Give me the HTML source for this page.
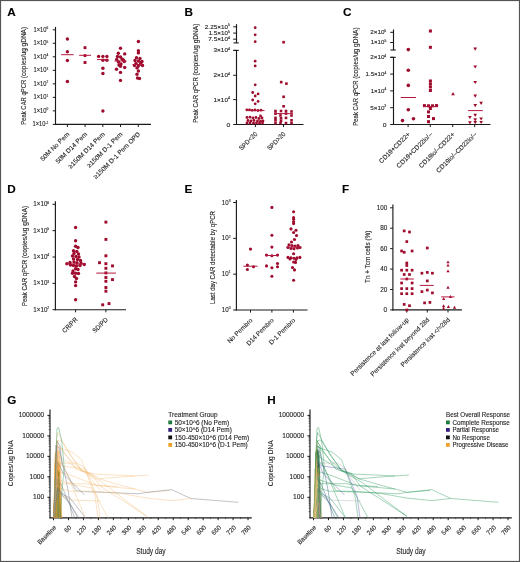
<!DOCTYPE html>
<html><head><meta charset="utf-8"><style>
html,body{margin:0;padding:0;background:#fff;}
svg{display:block;will-change:transform;}
text{stroke:#231f20;stroke-width:0.12px;}
</style></head><body>
<svg width="520" height="562" viewBox="0 0 520 562" font-family='"Liberation Sans", sans-serif' fill="#231f20">
<rect x="0" y="0" width="520" height="562" fill="#fff"/>
<rect x="0.5" y="0.5" width="519" height="561" fill="none" stroke="#555" stroke-width="1.2"/>
<text x="7.30" y="16.20" font-size="10.4" font-weight="bold" fill="#000" textLength="8.49" lengthAdjust="spacingAndGlyphs">A</text>
<line x1="55.50" y1="26.90" x2="55.50" y2="124.85" stroke="#1a1a1a" stroke-width="1.15"/>
<line x1="55.00" y1="124.35" x2="151.00" y2="124.35" stroke="#1a1a1a" stroke-width="1.15"/>
<line x1="52.80" y1="29.80" x2="55.50" y2="29.80" stroke="#1a1a1a" stroke-width="1.0"/>
<text x="48.30" y="31.80" font-size="6.4" text-anchor="end" textLength="14.85" lengthAdjust="spacingAndGlyphs">1×10<tspan font-size="3.52" dy="-2.69">6</tspan></text>
<line x1="52.80" y1="43.31" x2="55.50" y2="43.31" stroke="#1a1a1a" stroke-width="1.0"/>
<text x="48.30" y="45.31" font-size="6.4" text-anchor="end" textLength="14.85" lengthAdjust="spacingAndGlyphs">1×10<tspan font-size="3.52" dy="-2.69">5</tspan></text>
<line x1="52.80" y1="56.82" x2="55.50" y2="56.82" stroke="#1a1a1a" stroke-width="1.0"/>
<text x="48.30" y="58.82" font-size="6.4" text-anchor="end" textLength="14.85" lengthAdjust="spacingAndGlyphs">1×10<tspan font-size="3.52" dy="-2.69">4</tspan></text>
<line x1="52.80" y1="70.33" x2="55.50" y2="70.33" stroke="#1a1a1a" stroke-width="1.0"/>
<text x="48.30" y="72.33" font-size="6.4" text-anchor="end" textLength="14.85" lengthAdjust="spacingAndGlyphs">1×10<tspan font-size="3.52" dy="-2.69">3</tspan></text>
<line x1="52.80" y1="83.84" x2="55.50" y2="83.84" stroke="#1a1a1a" stroke-width="1.0"/>
<text x="48.30" y="85.84" font-size="6.4" text-anchor="end" textLength="14.85" lengthAdjust="spacingAndGlyphs">1×10<tspan font-size="3.52" dy="-2.69">2</tspan></text>
<line x1="52.80" y1="97.35" x2="55.50" y2="97.35" stroke="#1a1a1a" stroke-width="1.0"/>
<text x="48.30" y="99.35" font-size="6.4" text-anchor="end" textLength="14.85" lengthAdjust="spacingAndGlyphs">1×10<tspan font-size="3.52" dy="-2.69">1</tspan></text>
<line x1="52.80" y1="110.86" x2="55.50" y2="110.86" stroke="#1a1a1a" stroke-width="1.0"/>
<text x="48.30" y="112.86" font-size="6.4" text-anchor="end" textLength="14.85" lengthAdjust="spacingAndGlyphs">1×10<tspan font-size="3.52" dy="-2.69">0</tspan></text>
<line x1="52.80" y1="124.37" x2="55.50" y2="124.37" stroke="#1a1a1a" stroke-width="1.0"/>
<text x="48.30" y="126.37" font-size="6.4" text-anchor="end" textLength="15.85" lengthAdjust="spacingAndGlyphs">1×10<tspan font-size="3.52" dy="-2.69">-1</tspan></text>
<line x1="67.40" y1="124.35" x2="67.40" y2="127.05" stroke="#1a1a1a" stroke-width="1.0"/>
<line x1="85.12" y1="124.35" x2="85.12" y2="127.05" stroke="#1a1a1a" stroke-width="1.0"/>
<line x1="102.84" y1="124.35" x2="102.84" y2="127.05" stroke="#1a1a1a" stroke-width="1.0"/>
<line x1="120.56" y1="124.35" x2="120.56" y2="127.05" stroke="#1a1a1a" stroke-width="1.0"/>
<line x1="138.28" y1="124.35" x2="138.28" y2="127.05" stroke="#1a1a1a" stroke-width="1.0"/>
<text x="25.70" y="124.70" font-size="6.8" textLength="46.55" lengthAdjust="spacingAndGlyphs" transform="rotate(-90 25.70 124.70)">Peak CAR qPCR&#160;</text>
<text x="25.70" y="78.15" font-size="6.8" textLength="51.25" lengthAdjust="spacingAndGlyphs" transform="rotate(-90 25.70 78.15)">(copies/ug gDNA)</text>
<text x="69.80" y="134.65" font-size="6.5" text-anchor="end" textLength="37.93" lengthAdjust="spacingAndGlyphs" transform="rotate(-45 69.80 134.65)">50M No Pem</text>
<text x="87.52" y="134.65" font-size="6.5" text-anchor="end" textLength="41.55" lengthAdjust="spacingAndGlyphs" transform="rotate(-45 87.52 134.65)">50M D14 Pem</text>
<text x="105.24" y="134.65" font-size="6.5" text-anchor="end" textLength="48.73" lengthAdjust="spacingAndGlyphs" transform="rotate(-45 105.24 134.65)">≥150M D14 Pem</text>
<text x="122.96" y="134.65" font-size="6.5" text-anchor="end" textLength="47.28" lengthAdjust="spacingAndGlyphs" transform="rotate(-45 122.96 134.65)">≥150M D-1 Pem</text>
<text x="140.68" y="134.65" font-size="6.5" text-anchor="end" textLength="63.17" lengthAdjust="spacingAndGlyphs" transform="rotate(-45 140.68 134.65)">≥150M D-1 Pem OPD</text>
<circle cx="67.40" cy="39.00" r="1.7" fill="#9e0b2d"/>
<circle cx="67.40" cy="51.70" r="1.7" fill="#9e0b2d"/>
<circle cx="67.40" cy="60.50" r="1.7" fill="#9e0b2d"/>
<circle cx="67.40" cy="81.50" r="1.7" fill="#9e0b2d"/>
<line x1="61.10" y1="54.70" x2="73.60" y2="54.70" stroke="#b3173e" stroke-width="1.0"/>
<rect x="83.55" y="46.25" width="2.9" height="2.9" fill="#9e0b2d"/>
<circle cx="85.00" cy="55.60" r="1.7" fill="#9e0b2d"/>
<rect x="83.55" y="61.05" width="2.9" height="2.9" fill="#9e0b2d"/>
<line x1="79.20" y1="55.30" x2="91.00" y2="55.30" stroke="#b3173e" stroke-width="1.0"/>
<circle cx="98.60" cy="56.40" r="1.7" fill="#9e0b2d"/>
<circle cx="102.90" cy="56.40" r="1.7" fill="#9e0b2d"/>
<circle cx="106.90" cy="56.40" r="1.7" fill="#9e0b2d"/>
<circle cx="102.90" cy="60.20" r="1.7" fill="#9e0b2d"/>
<circle cx="106.90" cy="60.20" r="1.7" fill="#9e0b2d"/>
<circle cx="102.90" cy="68.30" r="1.7" fill="#9e0b2d"/>
<circle cx="102.90" cy="73.50" r="1.7" fill="#9e0b2d"/>
<circle cx="102.90" cy="111.00" r="1.7" fill="#9e0b2d"/>
<line x1="97.10" y1="59.60" x2="108.50" y2="59.60" stroke="#b3173e" stroke-width="1.0"/>
<circle cx="120.50" cy="48.30" r="1.7" fill="#9e0b2d"/>
<circle cx="118.30" cy="53.20" r="1.7" fill="#9e0b2d"/>
<circle cx="124.70" cy="53.90" r="1.7" fill="#9e0b2d"/>
<circle cx="116.70" cy="59.50" r="1.7" fill="#9e0b2d"/>
<circle cx="120.50" cy="57.00" r="1.7" fill="#9e0b2d"/>
<circle cx="123.50" cy="60.00" r="1.7" fill="#9e0b2d"/>
<circle cx="118.50" cy="62.00" r="1.7" fill="#9e0b2d"/>
<circle cx="124.30" cy="61.50" r="1.7" fill="#9e0b2d"/>
<circle cx="121.00" cy="64.00" r="1.7" fill="#9e0b2d"/>
<circle cx="120.50" cy="66.30" r="1.7" fill="#9e0b2d"/>
<circle cx="124.70" cy="67.50" r="1.7" fill="#9e0b2d"/>
<circle cx="116.50" cy="69.20" r="1.7" fill="#9e0b2d"/>
<circle cx="120.50" cy="72.40" r="1.7" fill="#9e0b2d"/>
<circle cx="120.50" cy="80.40" r="1.7" fill="#9e0b2d"/>
<circle cx="117.50" cy="56.50" r="1.7" fill="#9e0b2d"/>
<circle cx="122.00" cy="59.00" r="1.7" fill="#9e0b2d"/>
<circle cx="119.00" cy="65.00" r="1.7" fill="#9e0b2d"/>
<line x1="114.50" y1="61.00" x2="126.50" y2="61.00" stroke="#b3173e" stroke-width="1.0"/>
<circle cx="138.40" cy="41.50" r="1.7" fill="#9e0b2d"/>
<circle cx="138.40" cy="50.80" r="1.7" fill="#9e0b2d"/>
<circle cx="138.40" cy="52.90" r="1.7" fill="#9e0b2d"/>
<circle cx="136.50" cy="57.70" r="1.7" fill="#9e0b2d"/>
<circle cx="140.00" cy="58.50" r="1.7" fill="#9e0b2d"/>
<circle cx="135.00" cy="60.50" r="1.7" fill="#9e0b2d"/>
<circle cx="138.40" cy="61.00" r="1.7" fill="#9e0b2d"/>
<circle cx="142.00" cy="61.50" r="1.7" fill="#9e0b2d"/>
<circle cx="136.00" cy="63.50" r="1.7" fill="#9e0b2d"/>
<circle cx="140.50" cy="64.00" r="1.7" fill="#9e0b2d"/>
<circle cx="134.50" cy="65.50" r="1.7" fill="#9e0b2d"/>
<circle cx="138.40" cy="66.00" r="1.7" fill="#9e0b2d"/>
<circle cx="142.50" cy="65.50" r="1.7" fill="#9e0b2d"/>
<circle cx="137.00" cy="67.90" r="1.7" fill="#9e0b2d"/>
<circle cx="138.40" cy="71.00" r="1.7" fill="#9e0b2d"/>
<circle cx="137.00" cy="74.30" r="1.7" fill="#9e0b2d"/>
<circle cx="137.50" cy="78.00" r="1.7" fill="#9e0b2d"/>
<circle cx="139.50" cy="78.50" r="1.7" fill="#9e0b2d"/>
<circle cx="141.00" cy="62.50" r="1.7" fill="#9e0b2d"/>
<line x1="132.50" y1="64.50" x2="144.00" y2="64.50" stroke="#b3173e" stroke-width="1.0"/>
<text x="184.50" y="16.40" font-size="10.4" font-weight="bold" fill="#000" textLength="8.49" lengthAdjust="spacingAndGlyphs">B</text>
<line x1="236.50" y1="24.20" x2="236.50" y2="42.90" stroke="#1a1a1a" stroke-width="1.15"/>
<line x1="233.50" y1="42.90" x2="238.80" y2="42.90" stroke="#1a1a1a" stroke-width="1.1"/>
<line x1="236.50" y1="50.40" x2="236.50" y2="125.00" stroke="#1a1a1a" stroke-width="1.15"/>
<line x1="233.50" y1="50.40" x2="238.80" y2="50.40" stroke="#1a1a1a" stroke-width="1.1"/>
<line x1="236.00" y1="124.50" x2="303.50" y2="124.50" stroke="#1a1a1a" stroke-width="1.15"/>
<line x1="233.20" y1="26.80" x2="236.50" y2="26.80" stroke="#1a1a1a" stroke-width="1.0"/>
<text x="229.90" y="28.70" font-size="5.8" text-anchor="end" textLength="25.05" lengthAdjust="spacingAndGlyphs">2.25×10<tspan font-size="3.19" dy="-2.44">5</tspan></text>
<line x1="233.20" y1="33.10" x2="236.50" y2="33.10" stroke="#1a1a1a" stroke-width="1.0"/>
<text x="229.90" y="35.00" font-size="5.8" text-anchor="end" textLength="21.25" lengthAdjust="spacingAndGlyphs">1.5×10<tspan font-size="3.19" dy="-2.44">5</tspan></text>
<line x1="233.20" y1="39.20" x2="236.50" y2="39.20" stroke="#1a1a1a" stroke-width="1.0"/>
<text x="229.90" y="41.10" font-size="5.8" text-anchor="end" textLength="21.55" lengthAdjust="spacingAndGlyphs">7.5×10<tspan font-size="3.19" dy="-2.44">4</tspan></text>
<line x1="233.20" y1="50.40" x2="236.50" y2="50.40" stroke="#1a1a1a" stroke-width="1.0"/>
<text x="229.90" y="52.30" font-size="5.8" text-anchor="end" textLength="16.35" lengthAdjust="spacingAndGlyphs">3×10<tspan font-size="3.19" dy="-2.44">4</tspan></text>
<line x1="233.20" y1="75.30" x2="236.50" y2="75.30" stroke="#1a1a1a" stroke-width="1.0"/>
<text x="229.90" y="77.20" font-size="5.8" text-anchor="end" textLength="16.35" lengthAdjust="spacingAndGlyphs">2×10<tspan font-size="3.19" dy="-2.44">4</tspan></text>
<line x1="233.20" y1="99.60" x2="236.50" y2="99.60" stroke="#1a1a1a" stroke-width="1.0"/>
<text x="229.90" y="101.50" font-size="5.8" text-anchor="end" textLength="16.35" lengthAdjust="spacingAndGlyphs">1×10<tspan font-size="3.19" dy="-2.44">4</tspan></text>
<line x1="233.20" y1="124.50" x2="236.50" y2="124.50" stroke="#1a1a1a" stroke-width="1.0"/>
<text x="230.30" y="126.50" font-size="5.6" text-anchor="end" textLength="3.80" lengthAdjust="spacingAndGlyphs">0</text>
<text x="197.80" y="122.85" font-size="6.8" textLength="47.27" lengthAdjust="spacingAndGlyphs" transform="rotate(-90 197.80 122.85)">Peak CAR qPCR&#160;</text>
<text x="197.80" y="75.58" font-size="6.8" textLength="52.03" lengthAdjust="spacingAndGlyphs" transform="rotate(-90 197.80 75.58)">(copies/ug gDNA)</text>
<line x1="255.40" y1="124.50" x2="255.40" y2="127.10" stroke="#1a1a1a" stroke-width="1.0"/>
<text x="257.80" y="134.50" font-size="6.5" text-anchor="end" textLength="23.00" lengthAdjust="spacingAndGlyphs" transform="rotate(-45 257.80 134.50)">SPD&lt;20</text>
<line x1="283.50" y1="124.50" x2="283.50" y2="127.10" stroke="#1a1a1a" stroke-width="1.0"/>
<text x="285.90" y="134.50" font-size="6.5" text-anchor="end" textLength="23.00" lengthAdjust="spacingAndGlyphs" transform="rotate(-45 285.90 134.50)">SPD&gt;20</text>
<circle cx="255.20" cy="27.70" r="1.4" fill="#9e0b2d"/>
<circle cx="255.20" cy="34.80" r="1.4" fill="#9e0b2d"/>
<circle cx="255.20" cy="41.70" r="1.4" fill="#9e0b2d"/>
<circle cx="255.20" cy="61.20" r="1.4" fill="#9e0b2d"/>
<circle cx="255.20" cy="65.90" r="1.4" fill="#9e0b2d"/>
<circle cx="255.20" cy="84.80" r="1.4" fill="#9e0b2d"/>
<circle cx="252.70" cy="92.50" r="1.4" fill="#9e0b2d"/>
<circle cx="258.10" cy="93.90" r="1.4" fill="#9e0b2d"/>
<circle cx="255.20" cy="96.00" r="1.4" fill="#9e0b2d"/>
<circle cx="252.70" cy="100.00" r="1.4" fill="#9e0b2d"/>
<circle cx="258.10" cy="101.40" r="1.4" fill="#9e0b2d"/>
<circle cx="255.20" cy="103.80" r="1.4" fill="#9e0b2d"/>
<circle cx="246.80" cy="109.80" r="1.4" fill="#9e0b2d"/>
<circle cx="249.50" cy="109.80" r="1.4" fill="#9e0b2d"/>
<circle cx="252.20" cy="110.30" r="1.4" fill="#9e0b2d"/>
<circle cx="255.00" cy="110.00" r="1.4" fill="#9e0b2d"/>
<circle cx="258.00" cy="110.50" r="1.4" fill="#9e0b2d"/>
<circle cx="261.00" cy="110.20" r="1.4" fill="#9e0b2d"/>
<circle cx="260.50" cy="115.90" r="1.4" fill="#9e0b2d"/>
<circle cx="247.00" cy="117.50" r="1.4" fill="#9e0b2d"/>
<circle cx="250.00" cy="117.20" r="1.4" fill="#9e0b2d"/>
<circle cx="253.00" cy="118.00" r="1.4" fill="#9e0b2d"/>
<circle cx="256.00" cy="117.50" r="1.4" fill="#9e0b2d"/>
<circle cx="259.00" cy="118.50" r="1.4" fill="#9e0b2d"/>
<circle cx="262.00" cy="118.00" r="1.4" fill="#9e0b2d"/>
<circle cx="248.00" cy="120.50" r="1.4" fill="#9e0b2d"/>
<circle cx="251.00" cy="121.00" r="1.4" fill="#9e0b2d"/>
<circle cx="254.00" cy="120.50" r="1.4" fill="#9e0b2d"/>
<circle cx="257.50" cy="121.00" r="1.4" fill="#9e0b2d"/>
<circle cx="260.50" cy="121.20" r="1.4" fill="#9e0b2d"/>
<circle cx="263.00" cy="121.00" r="1.4" fill="#9e0b2d"/>
<circle cx="247.00" cy="123.00" r="1.4" fill="#9e0b2d"/>
<circle cx="250.00" cy="123.00" r="1.4" fill="#9e0b2d"/>
<circle cx="253.50" cy="123.20" r="1.4" fill="#9e0b2d"/>
<circle cx="256.50" cy="123.00" r="1.4" fill="#9e0b2d"/>
<circle cx="259.50" cy="123.20" r="1.4" fill="#9e0b2d"/>
<circle cx="262.50" cy="123.00" r="1.4" fill="#9e0b2d"/>
<line x1="246.00" y1="110.60" x2="264.50" y2="110.60" stroke="#b3173e" stroke-width="1.0"/>
<rect x="282.30" y="40.90" width="2.6" height="2.6" fill="#9e0b2d"/>
<rect x="279.90" y="80.80" width="2.6" height="2.6" fill="#9e0b2d"/>
<rect x="285.10" y="82.30" width="2.6" height="2.6" fill="#9e0b2d"/>
<rect x="282.30" y="95.50" width="2.6" height="2.6" fill="#9e0b2d"/>
<rect x="282.30" y="105.00" width="2.6" height="2.6" fill="#9e0b2d"/>
<rect x="274.20" y="109.70" width="2.6" height="2.6" fill="#9e0b2d"/>
<rect x="279.70" y="109.70" width="2.6" height="2.6" fill="#9e0b2d"/>
<rect x="284.70" y="109.70" width="2.6" height="2.6" fill="#9e0b2d"/>
<rect x="290.20" y="110.20" width="2.6" height="2.6" fill="#9e0b2d"/>
<rect x="274.20" y="112.30" width="2.6" height="2.6" fill="#9e0b2d"/>
<rect x="279.20" y="114.10" width="2.6" height="2.6" fill="#9e0b2d"/>
<rect x="284.70" y="112.30" width="2.6" height="2.6" fill="#9e0b2d"/>
<rect x="290.20" y="114.20" width="2.6" height="2.6" fill="#9e0b2d"/>
<rect x="274.20" y="116.60" width="2.6" height="2.6" fill="#9e0b2d"/>
<rect x="279.70" y="116.90" width="2.6" height="2.6" fill="#9e0b2d"/>
<rect x="284.70" y="116.60" width="2.6" height="2.6" fill="#9e0b2d"/>
<rect x="274.20" y="119.00" width="2.6" height="2.6" fill="#9e0b2d"/>
<rect x="279.70" y="119.40" width="2.6" height="2.6" fill="#9e0b2d"/>
<rect x="290.20" y="119.00" width="2.6" height="2.6" fill="#9e0b2d"/>
<rect x="274.20" y="121.80" width="2.6" height="2.6" fill="#9e0b2d"/>
<rect x="279.20" y="121.80" width="2.6" height="2.6" fill="#9e0b2d"/>
<rect x="284.70" y="121.80" width="2.6" height="2.6" fill="#9e0b2d"/>
<rect x="290.20" y="121.80" width="2.6" height="2.6" fill="#9e0b2d"/>
<line x1="274.00" y1="113.60" x2="293.00" y2="113.60" stroke="#b3173e" stroke-width="1.0"/>
<text x="342.90" y="16.30" font-size="10.4" font-weight="bold" fill="#000" textLength="8.49" lengthAdjust="spacingAndGlyphs">C</text>
<line x1="393.50" y1="29.50" x2="393.50" y2="50.00" stroke="#1a1a1a" stroke-width="1.15"/>
<line x1="390.40" y1="50.00" x2="395.80" y2="50.00" stroke="#1a1a1a" stroke-width="1.1"/>
<line x1="393.50" y1="57.30" x2="393.50" y2="125.00" stroke="#1a1a1a" stroke-width="1.15"/>
<line x1="390.40" y1="57.30" x2="395.80" y2="57.30" stroke="#1a1a1a" stroke-width="1.1"/>
<line x1="393.00" y1="124.50" x2="490.40" y2="124.50" stroke="#1a1a1a" stroke-width="1.15"/>
<line x1="390.20" y1="32.30" x2="393.50" y2="32.30" stroke="#1a1a1a" stroke-width="1.0"/>
<text x="386.30" y="34.20" font-size="5.8" text-anchor="end" textLength="16.05" lengthAdjust="spacingAndGlyphs">2×10<tspan font-size="3.19" dy="-2.44">5</tspan></text>
<line x1="390.20" y1="42.50" x2="393.50" y2="42.50" stroke="#1a1a1a" stroke-width="1.0"/>
<text x="386.30" y="44.40" font-size="5.8" text-anchor="end" textLength="15.65" lengthAdjust="spacingAndGlyphs">1×10<tspan font-size="3.19" dy="-2.44">5</tspan></text>
<line x1="390.20" y1="57.30" x2="393.50" y2="57.30" stroke="#1a1a1a" stroke-width="1.0"/>
<text x="386.30" y="59.20" font-size="5.8" text-anchor="end" textLength="16.05" lengthAdjust="spacingAndGlyphs">2×10<tspan font-size="3.19" dy="-2.44">4</tspan></text>
<line x1="390.20" y1="74.10" x2="393.50" y2="74.10" stroke="#1a1a1a" stroke-width="1.0"/>
<text x="386.30" y="76.00" font-size="5.8" text-anchor="end" textLength="20.75" lengthAdjust="spacingAndGlyphs">1.5×10<tspan font-size="3.19" dy="-2.44">4</tspan></text>
<line x1="390.20" y1="90.90" x2="393.50" y2="90.90" stroke="#1a1a1a" stroke-width="1.0"/>
<text x="386.30" y="92.80" font-size="5.8" text-anchor="end" textLength="15.65" lengthAdjust="spacingAndGlyphs">1×10<tspan font-size="3.19" dy="-2.44">4</tspan></text>
<line x1="390.20" y1="107.70" x2="393.50" y2="107.70" stroke="#1a1a1a" stroke-width="1.0"/>
<text x="386.30" y="109.60" font-size="5.8" text-anchor="end" textLength="16.05" lengthAdjust="spacingAndGlyphs">5×10<tspan font-size="3.19" dy="-2.44">3</tspan></text>
<line x1="390.20" y1="124.50" x2="393.50" y2="124.50" stroke="#1a1a1a" stroke-width="1.0"/>
<text x="386.60" y="126.50" font-size="5.6" text-anchor="end" textLength="3.80" lengthAdjust="spacingAndGlyphs">0</text>
<text x="357.70" y="125.65" font-size="6.8" textLength="46.79" lengthAdjust="spacingAndGlyphs" transform="rotate(-90 357.70 125.65)">Peak CAR qPCR&#160;</text>
<text x="357.70" y="78.86" font-size="6.8" textLength="51.51" lengthAdjust="spacingAndGlyphs" transform="rotate(-90 357.70 78.86)">(copies/ug gDNA)</text>
<line x1="408.10" y1="124.50" x2="408.10" y2="127.10" stroke="#1a1a1a" stroke-width="1.0"/>
<text x="410.50" y="134.80" font-size="6.5" text-anchor="end" textLength="40.83" lengthAdjust="spacingAndGlyphs" transform="rotate(-45 410.50 134.80)">CD19+CD22+</text>
<line x1="430.30" y1="124.50" x2="430.30" y2="127.10" stroke="#1a1a1a" stroke-width="1.0"/>
<text x="432.70" y="134.80" font-size="6.5" text-anchor="end" textLength="47.51" lengthAdjust="spacingAndGlyphs" transform="rotate(-45 432.70 134.80)">CD19+CD22lo/–</text>
<line x1="452.70" y1="124.50" x2="452.70" y2="127.10" stroke="#1a1a1a" stroke-width="1.0"/>
<text x="455.10" y="134.80" font-size="6.5" text-anchor="end" textLength="47.51" lengthAdjust="spacingAndGlyphs" transform="rotate(-45 455.10 134.80)">CD19lo/–CD22+</text>
<line x1="474.70" y1="124.50" x2="474.70" y2="127.10" stroke="#1a1a1a" stroke-width="1.0"/>
<text x="477.10" y="134.80" font-size="6.5" text-anchor="end" textLength="54.20" lengthAdjust="spacingAndGlyphs" transform="rotate(-45 477.10 134.80)">CD19lo/–CD22lo/–</text>
<circle cx="408.30" cy="49.60" r="1.8" fill="#9e0b2d"/>
<circle cx="408.30" cy="70.30" r="1.8" fill="#9e0b2d"/>
<circle cx="408.30" cy="85.40" r="1.8" fill="#9e0b2d"/>
<circle cx="408.30" cy="109.80" r="1.8" fill="#9e0b2d"/>
<circle cx="402.50" cy="120.60" r="1.8" fill="#9e0b2d"/>
<circle cx="413.50" cy="118.80" r="1.8" fill="#9e0b2d"/>
<line x1="400.80" y1="97.50" x2="416.00" y2="97.50" stroke="#b3173e" stroke-width="1.0"/>
<rect x="428.90" y="29.50" width="3.0" height="3.0" fill="#9e0b2d"/>
<rect x="428.90" y="45.80" width="3.0" height="3.0" fill="#9e0b2d"/>
<rect x="428.90" y="79.50" width="3.0" height="3.0" fill="#9e0b2d"/>
<rect x="428.90" y="82.50" width="3.0" height="3.0" fill="#9e0b2d"/>
<rect x="428.90" y="85.50" width="3.0" height="3.0" fill="#9e0b2d"/>
<rect x="428.90" y="89.00" width="3.0" height="3.0" fill="#9e0b2d"/>
<rect x="422.90" y="104.10" width="3.0" height="3.0" fill="#9e0b2d"/>
<rect x="427.00" y="104.30" width="3.0" height="3.0" fill="#9e0b2d"/>
<rect x="431.00" y="104.30" width="3.0" height="3.0" fill="#9e0b2d"/>
<rect x="435.00" y="104.10" width="3.0" height="3.0" fill="#9e0b2d"/>
<rect x="428.90" y="107.00" width="3.0" height="3.0" fill="#9e0b2d"/>
<rect x="427.00" y="110.40" width="3.0" height="3.0" fill="#9e0b2d"/>
<rect x="427.00" y="115.00" width="3.0" height="3.0" fill="#9e0b2d"/>
<rect x="432.00" y="117.10" width="3.0" height="3.0" fill="#9e0b2d"/>
<rect x="427.00" y="120.20" width="3.0" height="3.0" fill="#9e0b2d"/>
<line x1="423.00" y1="106.60" x2="438.00" y2="106.60" stroke="#b3173e" stroke-width="1.0"/>
<polygon points="451.15,95.31 454.85,95.31 453.00,92.09" fill="#9e0b2d"/>
<polygon points="473.35,47.59 477.05,47.59 475.20,50.81" fill="#9e0b2d"/>
<polygon points="473.35,65.39 477.05,65.39 475.20,68.61" fill="#9e0b2d"/>
<polygon points="473.35,80.89 477.05,80.89 475.20,84.11" fill="#9e0b2d"/>
<polygon points="473.35,94.59 477.05,94.59 475.20,97.81" fill="#9e0b2d"/>
<polygon points="473.35,103.99 477.05,103.99 475.20,107.21" fill="#9e0b2d"/>
<polygon points="479.25,101.69 482.95,101.69 481.10,104.91" fill="#9e0b2d"/>
<polygon points="473.35,113.79 477.05,113.79 475.20,117.01" fill="#9e0b2d"/>
<polygon points="468.05,115.89 471.75,115.89 469.90,119.11" fill="#9e0b2d"/>
<polygon points="473.35,118.29 477.05,118.29 475.20,121.51" fill="#9e0b2d"/>
<polygon points="479.25,117.39 482.95,117.39 481.10,120.61" fill="#9e0b2d"/>
<polygon points="468.05,121.29 471.75,121.29 469.90,124.51" fill="#9e0b2d"/>
<polygon points="479.25,120.89 482.95,120.89 481.10,124.11" fill="#9e0b2d"/>
<polygon points="473.35,120.99 477.05,120.99 475.20,124.21" fill="#9e0b2d"/>
<line x1="468.10" y1="110.60" x2="482.70" y2="110.60" stroke="#b3173e" stroke-width="1.0"/>
<text x="7.30" y="192.50" font-size="10.4" font-weight="bold" fill="#000" textLength="8.49" lengthAdjust="spacingAndGlyphs">D</text>
<line x1="55.40" y1="201.20" x2="55.40" y2="310.20" stroke="#1a1a1a" stroke-width="1.15"/>
<line x1="54.90" y1="309.70" x2="126.00" y2="309.70" stroke="#1a1a1a" stroke-width="1.15"/>
<line x1="52.50" y1="204.30" x2="55.40" y2="204.30" stroke="#1a1a1a" stroke-width="1.0"/>
<text x="49.30" y="206.30" font-size="6.4" text-anchor="end" textLength="16.05" lengthAdjust="spacingAndGlyphs">1×10<tspan font-size="3.52" dy="-2.69">6</tspan></text>
<line x1="52.50" y1="230.65" x2="55.40" y2="230.65" stroke="#1a1a1a" stroke-width="1.0"/>
<text x="49.30" y="232.65" font-size="6.4" text-anchor="end" textLength="16.05" lengthAdjust="spacingAndGlyphs">1×10<tspan font-size="3.52" dy="-2.69">5</tspan></text>
<line x1="52.50" y1="257.00" x2="55.40" y2="257.00" stroke="#1a1a1a" stroke-width="1.0"/>
<text x="49.30" y="259.00" font-size="6.4" text-anchor="end" textLength="16.05" lengthAdjust="spacingAndGlyphs">1×10<tspan font-size="3.52" dy="-2.69">4</tspan></text>
<line x1="52.50" y1="283.35" x2="55.40" y2="283.35" stroke="#1a1a1a" stroke-width="1.0"/>
<text x="49.30" y="285.35" font-size="6.4" text-anchor="end" textLength="16.05" lengthAdjust="spacingAndGlyphs">1×10<tspan font-size="3.52" dy="-2.69">3</tspan></text>
<line x1="52.50" y1="309.70" x2="55.40" y2="309.70" stroke="#1a1a1a" stroke-width="1.0"/>
<text x="49.30" y="311.70" font-size="6.4" text-anchor="end" textLength="16.05" lengthAdjust="spacingAndGlyphs">1×10<tspan font-size="3.52" dy="-2.69">2</tspan></text>
<text x="26.60" y="306.05" font-size="6.8" textLength="47.74" lengthAdjust="spacingAndGlyphs" transform="rotate(-90 26.60 306.05)">Peak CAR qPCR&#160;</text>
<text x="26.60" y="258.31" font-size="6.8" textLength="52.56" lengthAdjust="spacingAndGlyphs" transform="rotate(-90 26.60 258.31)">(copies/ug gDNA)</text>
<line x1="75.60" y1="309.70" x2="75.60" y2="312.30" stroke="#1a1a1a" stroke-width="1.0"/>
<text x="78.00" y="320.00" font-size="6.5" text-anchor="end" textLength="18.60" lengthAdjust="spacingAndGlyphs" transform="rotate(-45 78.00 320.00)">CR/PR</text>
<line x1="105.90" y1="309.70" x2="105.90" y2="312.30" stroke="#1a1a1a" stroke-width="1.0"/>
<text x="108.30" y="320.00" font-size="6.5" text-anchor="end" textLength="18.80" lengthAdjust="spacingAndGlyphs" transform="rotate(-45 108.30 320.00)">SD/PD</text>
<circle cx="75.60" cy="227.50" r="1.7" fill="#9e0b2d"/>
<circle cx="75.60" cy="240.80" r="1.7" fill="#9e0b2d"/>
<circle cx="75.60" cy="246.30" r="1.7" fill="#9e0b2d"/>
<circle cx="78.00" cy="247.50" r="1.7" fill="#9e0b2d"/>
<circle cx="73.50" cy="250.80" r="1.7" fill="#9e0b2d"/>
<circle cx="76.80" cy="251.50" r="1.7" fill="#9e0b2d"/>
<circle cx="74.00" cy="253.50" r="1.7" fill="#9e0b2d"/>
<circle cx="78.50" cy="254.00" r="1.7" fill="#9e0b2d"/>
<circle cx="72.50" cy="256.00" r="1.7" fill="#9e0b2d"/>
<circle cx="76.00" cy="256.50" r="1.7" fill="#9e0b2d"/>
<circle cx="79.00" cy="257.00" r="1.7" fill="#9e0b2d"/>
<circle cx="73.50" cy="259.00" r="1.7" fill="#9e0b2d"/>
<circle cx="77.50" cy="259.50" r="1.7" fill="#9e0b2d"/>
<circle cx="80.50" cy="260.50" r="1.7" fill="#9e0b2d"/>
<circle cx="70.00" cy="262.50" r="1.7" fill="#9e0b2d"/>
<circle cx="74.00" cy="262.00" r="1.7" fill="#9e0b2d"/>
<circle cx="77.00" cy="262.80" r="1.7" fill="#9e0b2d"/>
<circle cx="81.00" cy="263.00" r="1.7" fill="#9e0b2d"/>
<circle cx="66.90" cy="263.80" r="1.7" fill="#9e0b2d"/>
<circle cx="84.20" cy="264.50" r="1.7" fill="#9e0b2d"/>
<circle cx="70.50" cy="265.00" r="1.7" fill="#9e0b2d"/>
<circle cx="73.50" cy="265.50" r="1.7" fill="#9e0b2d"/>
<circle cx="76.50" cy="266.00" r="1.7" fill="#9e0b2d"/>
<circle cx="80.00" cy="265.50" r="1.7" fill="#9e0b2d"/>
<circle cx="75.60" cy="268.70" r="1.7" fill="#9e0b2d"/>
<circle cx="78.00" cy="269.50" r="1.7" fill="#9e0b2d"/>
<circle cx="73.00" cy="271.00" r="1.7" fill="#9e0b2d"/>
<circle cx="75.60" cy="273.30" r="1.7" fill="#9e0b2d"/>
<circle cx="72.50" cy="273.30" r="1.7" fill="#9e0b2d"/>
<circle cx="78.50" cy="273.50" r="1.7" fill="#9e0b2d"/>
<circle cx="76.50" cy="278.50" r="1.7" fill="#9e0b2d"/>
<circle cx="74.50" cy="276.50" r="1.7" fill="#9e0b2d"/>
<circle cx="75.60" cy="281.90" r="1.7" fill="#9e0b2d"/>
<circle cx="75.60" cy="285.60" r="1.7" fill="#9e0b2d"/>
<circle cx="75.60" cy="299.80" r="1.7" fill="#9e0b2d"/>
<line x1="65.50" y1="264.00" x2="86.00" y2="264.00" stroke="#b3173e" stroke-width="1.0"/>
<rect x="104.45" y="220.65" width="2.9" height="2.9" fill="#9e0b2d"/>
<rect x="104.45" y="237.95" width="2.9" height="2.9" fill="#9e0b2d"/>
<rect x="104.45" y="254.35" width="2.9" height="2.9" fill="#9e0b2d"/>
<rect x="98.05" y="261.25" width="2.9" height="2.9" fill="#9e0b2d"/>
<rect x="104.45" y="262.25" width="2.9" height="2.9" fill="#9e0b2d"/>
<rect x="111.05" y="264.45" width="2.9" height="2.9" fill="#9e0b2d"/>
<rect x="104.45" y="266.85" width="2.9" height="2.9" fill="#9e0b2d"/>
<rect x="104.45" y="271.45" width="2.9" height="2.9" fill="#9e0b2d"/>
<rect x="104.45" y="276.05" width="2.9" height="2.9" fill="#9e0b2d"/>
<rect x="111.05" y="278.15" width="2.9" height="2.9" fill="#9e0b2d"/>
<rect x="104.45" y="279.85" width="2.9" height="2.9" fill="#9e0b2d"/>
<rect x="104.45" y="286.05" width="2.9" height="2.9" fill="#9e0b2d"/>
<rect x="104.45" y="289.75" width="2.9" height="2.9" fill="#9e0b2d"/>
<rect x="101.25" y="303.35" width="2.9" height="2.9" fill="#9e0b2d"/>
<rect x="107.55" y="302.15" width="2.9" height="2.9" fill="#9e0b2d"/>
<line x1="96.30" y1="273.10" x2="116.00" y2="273.10" stroke="#b3173e" stroke-width="1.0"/>
<text x="184.60" y="192.50" font-size="10.4" font-weight="bold" fill="#000" textLength="7.84" lengthAdjust="spacingAndGlyphs">E</text>
<line x1="236.40" y1="199.90" x2="236.40" y2="310.50" stroke="#1a1a1a" stroke-width="1.15"/>
<line x1="235.90" y1="310.00" x2="307.50" y2="310.00" stroke="#1a1a1a" stroke-width="1.15"/>
<line x1="233.20" y1="202.50" x2="236.40" y2="202.50" stroke="#1a1a1a" stroke-width="1.0"/>
<text x="230.60" y="204.50" font-size="6.4" text-anchor="end" textLength="8.75" lengthAdjust="spacingAndGlyphs">10<tspan font-size="3.52" dy="-2.69">3</tspan></text>
<line x1="233.20" y1="238.33" x2="236.40" y2="238.33" stroke="#1a1a1a" stroke-width="1.0"/>
<text x="230.60" y="240.33" font-size="6.4" text-anchor="end" textLength="8.75" lengthAdjust="spacingAndGlyphs">10<tspan font-size="3.52" dy="-2.69">2</tspan></text>
<line x1="233.20" y1="274.16" x2="236.40" y2="274.16" stroke="#1a1a1a" stroke-width="1.0"/>
<text x="230.60" y="276.16" font-size="6.4" text-anchor="end" textLength="8.75" lengthAdjust="spacingAndGlyphs">10<tspan font-size="3.52" dy="-2.69">1</tspan></text>
<line x1="233.20" y1="309.99" x2="236.40" y2="309.99" stroke="#1a1a1a" stroke-width="1.0"/>
<text x="230.60" y="311.99" font-size="6.4" text-anchor="end" textLength="8.75" lengthAdjust="spacingAndGlyphs">10<tspan font-size="3.52" dy="-2.69">0</tspan></text>
<text x="215.10" y="257.50" font-size="6.8" text-anchor="middle" textLength="92.90" lengthAdjust="spacingAndGlyphs" transform="rotate(-90 215.10 257.50)">Last day CAR detectable by qPCR</text>
<line x1="250.50" y1="310.00" x2="250.50" y2="312.60" stroke="#1a1a1a" stroke-width="1.0"/>
<text x="252.90" y="320.80" font-size="6.5" text-anchor="end" textLength="32.22" lengthAdjust="spacingAndGlyphs" transform="rotate(-45 252.90 320.80)">No Pembro</text>
<line x1="271.90" y1="310.00" x2="271.90" y2="312.60" stroke="#1a1a1a" stroke-width="1.0"/>
<text x="274.30" y="320.80" font-size="6.5" text-anchor="end" textLength="35.76" lengthAdjust="spacingAndGlyphs" transform="rotate(-45 274.30 320.80)">D14 Pembro</text>
<line x1="293.40" y1="310.00" x2="293.40" y2="312.60" stroke="#1a1a1a" stroke-width="1.0"/>
<text x="295.80" y="320.80" font-size="6.5" text-anchor="end" textLength="34.34" lengthAdjust="spacingAndGlyphs" transform="rotate(-45 295.80 320.80)">D-1 Pembro</text>
<circle cx="250.50" cy="249.10" r="1.55" fill="#9e0b2d"/>
<circle cx="247.40" cy="265.10" r="1.55" fill="#9e0b2d"/>
<circle cx="253.50" cy="266.80" r="1.55" fill="#9e0b2d"/>
<circle cx="247.40" cy="269.50" r="1.55" fill="#9e0b2d"/>
<line x1="243.40" y1="266.20" x2="257.50" y2="266.20" stroke="#b3173e" stroke-width="1.0"/>
<circle cx="271.90" cy="207.40" r="1.55" fill="#9e0b2d"/>
<circle cx="271.90" cy="235.30" r="1.55" fill="#9e0b2d"/>
<circle cx="271.90" cy="247.10" r="1.55" fill="#9e0b2d"/>
<circle cx="266.50" cy="255.10" r="1.55" fill="#9e0b2d"/>
<circle cx="271.90" cy="255.70" r="1.55" fill="#9e0b2d"/>
<circle cx="277.50" cy="255.10" r="1.55" fill="#9e0b2d"/>
<circle cx="266.50" cy="265.90" r="1.55" fill="#9e0b2d"/>
<circle cx="271.90" cy="267.80" r="1.55" fill="#9e0b2d"/>
<circle cx="277.50" cy="263.50" r="1.55" fill="#9e0b2d"/>
<circle cx="277.50" cy="266.80" r="1.55" fill="#9e0b2d"/>
<circle cx="271.90" cy="276.20" r="1.55" fill="#9e0b2d"/>
<line x1="265.00" y1="255.50" x2="279.00" y2="255.50" stroke="#b3173e" stroke-width="1.0"/>
<circle cx="293.60" cy="211.80" r="1.55" fill="#9e0b2d"/>
<circle cx="293.60" cy="217.50" r="1.55" fill="#9e0b2d"/>
<circle cx="293.60" cy="219.30" r="1.55" fill="#9e0b2d"/>
<circle cx="293.60" cy="221.80" r="1.55" fill="#9e0b2d"/>
<circle cx="293.60" cy="223.60" r="1.55" fill="#9e0b2d"/>
<circle cx="291.00" cy="228.90" r="1.55" fill="#9e0b2d"/>
<circle cx="296.00" cy="230.30" r="1.55" fill="#9e0b2d"/>
<circle cx="293.60" cy="232.50" r="1.55" fill="#9e0b2d"/>
<circle cx="296.50" cy="235.50" r="1.55" fill="#9e0b2d"/>
<circle cx="294.50" cy="239.50" r="1.55" fill="#9e0b2d"/>
<circle cx="291.50" cy="242.00" r="1.55" fill="#9e0b2d"/>
<circle cx="289.00" cy="244.80" r="1.55" fill="#9e0b2d"/>
<circle cx="292.00" cy="245.50" r="1.55" fill="#9e0b2d"/>
<circle cx="295.00" cy="246.00" r="1.55" fill="#9e0b2d"/>
<circle cx="298.00" cy="245.50" r="1.55" fill="#9e0b2d"/>
<circle cx="288.00" cy="247.50" r="1.55" fill="#9e0b2d"/>
<circle cx="291.00" cy="248.50" r="1.55" fill="#9e0b2d"/>
<circle cx="294.00" cy="248.80" r="1.55" fill="#9e0b2d"/>
<circle cx="297.50" cy="248.00" r="1.55" fill="#9e0b2d"/>
<circle cx="300.00" cy="247.50" r="1.55" fill="#9e0b2d"/>
<circle cx="293.60" cy="253.80" r="1.55" fill="#9e0b2d"/>
<circle cx="288.00" cy="257.40" r="1.55" fill="#9e0b2d"/>
<circle cx="291.00" cy="257.80" r="1.55" fill="#9e0b2d"/>
<circle cx="294.00" cy="258.20" r="1.55" fill="#9e0b2d"/>
<circle cx="297.00" cy="257.80" r="1.55" fill="#9e0b2d"/>
<circle cx="299.90" cy="257.40" r="1.55" fill="#9e0b2d"/>
<circle cx="290.00" cy="259.00" r="1.55" fill="#9e0b2d"/>
<circle cx="296.00" cy="259.50" r="1.55" fill="#9e0b2d"/>
<circle cx="293.60" cy="262.00" r="1.55" fill="#9e0b2d"/>
<circle cx="295.50" cy="262.40" r="1.55" fill="#9e0b2d"/>
<circle cx="292.50" cy="267.50" r="1.55" fill="#9e0b2d"/>
<circle cx="294.50" cy="269.90" r="1.55" fill="#9e0b2d"/>
<circle cx="293.60" cy="280.30" r="1.55" fill="#9e0b2d"/>
<line x1="286.40" y1="247.10" x2="300.30" y2="247.10" stroke="#b3173e" stroke-width="1.0"/>
<text x="342.10" y="192.50" font-size="10.4" font-weight="bold" fill="#000" textLength="7.18" lengthAdjust="spacingAndGlyphs">F</text>
<line x1="392.90" y1="204.60" x2="392.90" y2="310.40" stroke="#1a1a1a" stroke-width="1.15"/>
<line x1="392.40" y1="309.90" x2="461.90" y2="309.90" stroke="#1a1a1a" stroke-width="1.15"/>
<line x1="390.10" y1="207.80" x2="392.90" y2="207.80" stroke="#1a1a1a" stroke-width="1.0"/>
<text x="387.30" y="209.90" font-size="6.4" text-anchor="end" textLength="10.50" lengthAdjust="spacingAndGlyphs">100</text>
<line x1="390.10" y1="228.22" x2="392.90" y2="228.22" stroke="#1a1a1a" stroke-width="1.0"/>
<text x="387.30" y="230.32" font-size="6.4" text-anchor="end" textLength="7.10" lengthAdjust="spacingAndGlyphs">80</text>
<line x1="390.10" y1="248.64" x2="392.90" y2="248.64" stroke="#1a1a1a" stroke-width="1.0"/>
<text x="387.30" y="250.74" font-size="6.4" text-anchor="end" textLength="7.10" lengthAdjust="spacingAndGlyphs">60</text>
<line x1="390.10" y1="269.06" x2="392.90" y2="269.06" stroke="#1a1a1a" stroke-width="1.0"/>
<text x="387.30" y="271.16" font-size="6.4" text-anchor="end" textLength="7.10" lengthAdjust="spacingAndGlyphs">40</text>
<line x1="390.10" y1="289.48" x2="392.90" y2="289.48" stroke="#1a1a1a" stroke-width="1.0"/>
<text x="387.30" y="291.58" font-size="6.4" text-anchor="end" textLength="7.10" lengthAdjust="spacingAndGlyphs">20</text>
<line x1="390.10" y1="309.90" x2="392.90" y2="309.90" stroke="#1a1a1a" stroke-width="1.0"/>
<text x="387.30" y="312.00" font-size="6.4" text-anchor="end" textLength="3.70" lengthAdjust="spacingAndGlyphs">0</text>
<text x="370.50" y="256.80" font-size="6.8" text-anchor="middle" textLength="52.20" lengthAdjust="spacingAndGlyphs" transform="rotate(-90 370.50 256.80)">Tn + Tcm cells (%)</text>
<line x1="406.80" y1="309.90" x2="406.80" y2="312.50" stroke="#1a1a1a" stroke-width="1.0"/>
<text x="409.20" y="320.20" font-size="6.5" text-anchor="end" textLength="79.31" lengthAdjust="spacingAndGlyphs" transform="rotate(-45 409.20 320.20)">Persistence at last follow-up</text>
<line x1="427.30" y1="309.90" x2="427.30" y2="312.50" stroke="#1a1a1a" stroke-width="1.0"/>
<text x="429.70" y="320.20" font-size="6.5" text-anchor="end" textLength="80.03" lengthAdjust="spacingAndGlyphs" transform="rotate(-45 429.70 320.20)">Persistence lost beyond 28d</text>
<line x1="448.00" y1="309.90" x2="448.00" y2="312.50" stroke="#1a1a1a" stroke-width="1.0"/>
<text x="450.40" y="320.20" font-size="6.5" text-anchor="end" textLength="66.57" lengthAdjust="spacingAndGlyphs" transform="rotate(-45 450.40 320.20)">Persistence lost &lt;/=28d</text>
<rect x="402.85" y="229.55" width="2.7" height="2.7" fill="#9e0b2d"/>
<rect x="408.15" y="230.65" width="2.7" height="2.7" fill="#9e0b2d"/>
<rect x="405.45" y="240.25" width="2.7" height="2.7" fill="#9e0b2d"/>
<rect x="400.25" y="249.65" width="2.7" height="2.7" fill="#9e0b2d"/>
<rect x="402.85" y="250.95" width="2.7" height="2.7" fill="#9e0b2d"/>
<rect x="410.75" y="249.65" width="2.7" height="2.7" fill="#9e0b2d"/>
<rect x="405.45" y="261.65" width="2.7" height="2.7" fill="#9e0b2d"/>
<rect x="405.45" y="264.15" width="2.7" height="2.7" fill="#9e0b2d"/>
<rect x="400.25" y="268.85" width="2.7" height="2.7" fill="#9e0b2d"/>
<rect x="405.45" y="268.85" width="2.7" height="2.7" fill="#9e0b2d"/>
<rect x="410.75" y="268.85" width="2.7" height="2.7" fill="#9e0b2d"/>
<rect x="402.85" y="273.15" width="2.7" height="2.7" fill="#9e0b2d"/>
<rect x="408.15" y="273.15" width="2.7" height="2.7" fill="#9e0b2d"/>
<rect x="400.25" y="281.65" width="2.7" height="2.7" fill="#9e0b2d"/>
<rect x="410.75" y="281.65" width="2.7" height="2.7" fill="#9e0b2d"/>
<rect x="405.45" y="277.65" width="2.7" height="2.7" fill="#9e0b2d"/>
<rect x="400.25" y="287.25" width="2.7" height="2.7" fill="#9e0b2d"/>
<rect x="405.45" y="287.25" width="2.7" height="2.7" fill="#9e0b2d"/>
<rect x="410.75" y="287.25" width="2.7" height="2.7" fill="#9e0b2d"/>
<rect x="400.25" y="292.35" width="2.7" height="2.7" fill="#9e0b2d"/>
<rect x="405.45" y="292.35" width="2.7" height="2.7" fill="#9e0b2d"/>
<rect x="410.75" y="292.35" width="2.7" height="2.7" fill="#9e0b2d"/>
<rect x="402.85" y="303.05" width="2.7" height="2.7" fill="#9e0b2d"/>
<rect x="408.15" y="304.35" width="2.7" height="2.7" fill="#9e0b2d"/>
<rect x="405.45" y="308.65" width="2.7" height="2.7" fill="#9e0b2d"/>
<line x1="400.30" y1="279.00" x2="413.80" y2="279.00" stroke="#b3173e" stroke-width="1.0"/>
<rect x="425.95" y="246.65" width="2.7" height="2.7" fill="#9e0b2d"/>
<rect x="420.55" y="271.85" width="2.7" height="2.7" fill="#9e0b2d"/>
<rect x="425.95" y="271.05" width="2.7" height="2.7" fill="#9e0b2d"/>
<rect x="431.05" y="271.85" width="2.7" height="2.7" fill="#9e0b2d"/>
<rect x="425.95" y="279.55" width="2.7" height="2.7" fill="#9e0b2d"/>
<rect x="420.55" y="290.25" width="2.7" height="2.7" fill="#9e0b2d"/>
<rect x="425.95" y="288.75" width="2.7" height="2.7" fill="#9e0b2d"/>
<rect x="431.05" y="291.55" width="2.7" height="2.7" fill="#9e0b2d"/>
<rect x="423.25" y="301.55" width="2.7" height="2.7" fill="#9e0b2d"/>
<rect x="428.55" y="301.05" width="2.7" height="2.7" fill="#9e0b2d"/>
<line x1="419.80" y1="285.40" x2="433.70" y2="285.40" stroke="#b3173e" stroke-width="1.0"/>
<polygon points="446.35,263.34 449.65,263.34 448.00,260.46" fill="#9e0b2d"/>
<polygon points="446.35,266.54 449.65,266.54 448.00,263.66" fill="#9e0b2d"/>
<polygon points="446.35,272.34 449.65,272.34 448.00,269.46" fill="#9e0b2d"/>
<polygon points="446.35,288.74 449.65,288.74 448.00,285.86" fill="#9e0b2d"/>
<polygon points="442.05,300.04 445.35,300.04 443.70,297.16" fill="#9e0b2d"/>
<polygon points="441.95,307.14 445.25,307.14 443.60,304.26" fill="#9e0b2d"/>
<polygon points="446.75,307.94 450.05,307.94 448.40,305.06" fill="#9e0b2d"/>
<polygon points="452.85,308.64 456.15,308.64 454.50,305.76" fill="#9e0b2d"/>
<polygon points="441.95,309.64 445.25,309.64 443.60,306.76" fill="#9e0b2d"/>
<polygon points="448.85,297.94 452.15,297.94 450.50,295.06" fill="#9e0b2d"/>
<line x1="441.20" y1="296.90" x2="454.40" y2="296.90" stroke="#b3173e" stroke-width="1.0"/>
<text x="7.30" y="404.10" font-size="10.4" font-weight="bold" fill="#000" textLength="9.14" lengthAdjust="spacingAndGlyphs">G</text>
<line x1="50.00" y1="409.50" x2="50.00" y2="518.30" stroke="#1a1a1a" stroke-width="1.15"/>
<line x1="49.50" y1="517.80" x2="251.80" y2="517.80" stroke="#1a1a1a" stroke-width="1.15"/>
<line x1="47.40" y1="415.40" x2="50.00" y2="415.40" stroke="#1a1a1a" stroke-width="1.0"/>
<text x="44.20" y="417.40" font-size="6.4" text-anchor="end" textLength="25.50" lengthAdjust="spacingAndGlyphs">1000000</text>
<line x1="47.40" y1="435.87" x2="50.00" y2="435.87" stroke="#1a1a1a" stroke-width="1.0"/>
<text x="44.20" y="437.87" font-size="6.4" text-anchor="end" textLength="21.90" lengthAdjust="spacingAndGlyphs">100000</text>
<line x1="47.40" y1="456.34" x2="50.00" y2="456.34" stroke="#1a1a1a" stroke-width="1.0"/>
<text x="44.20" y="458.34" font-size="6.4" text-anchor="end" textLength="18.30" lengthAdjust="spacingAndGlyphs">10000</text>
<line x1="47.40" y1="476.81" x2="50.00" y2="476.81" stroke="#1a1a1a" stroke-width="1.0"/>
<text x="44.20" y="478.81" font-size="6.4" text-anchor="end" textLength="14.70" lengthAdjust="spacingAndGlyphs">1000</text>
<line x1="47.40" y1="497.28" x2="50.00" y2="497.28" stroke="#1a1a1a" stroke-width="1.0"/>
<text x="44.20" y="499.28" font-size="6.4" text-anchor="end" textLength="11.10" lengthAdjust="spacingAndGlyphs">100</text>
<line x1="48.60" y1="429.71" x2="50.00" y2="429.71" stroke="#1a1a1a" stroke-width="0.55"/>
<line x1="48.60" y1="426.10" x2="50.00" y2="426.10" stroke="#1a1a1a" stroke-width="0.55"/>
<line x1="48.60" y1="423.55" x2="50.00" y2="423.55" stroke="#1a1a1a" stroke-width="0.55"/>
<line x1="48.60" y1="421.56" x2="50.00" y2="421.56" stroke="#1a1a1a" stroke-width="0.55"/>
<line x1="48.60" y1="419.94" x2="50.00" y2="419.94" stroke="#1a1a1a" stroke-width="0.55"/>
<line x1="48.60" y1="418.57" x2="50.00" y2="418.57" stroke="#1a1a1a" stroke-width="0.55"/>
<line x1="48.60" y1="417.38" x2="50.00" y2="417.38" stroke="#1a1a1a" stroke-width="0.55"/>
<line x1="48.60" y1="416.34" x2="50.00" y2="416.34" stroke="#1a1a1a" stroke-width="0.55"/>
<line x1="48.60" y1="450.18" x2="50.00" y2="450.18" stroke="#1a1a1a" stroke-width="0.55"/>
<line x1="48.60" y1="446.57" x2="50.00" y2="446.57" stroke="#1a1a1a" stroke-width="0.55"/>
<line x1="48.60" y1="444.02" x2="50.00" y2="444.02" stroke="#1a1a1a" stroke-width="0.55"/>
<line x1="48.60" y1="442.03" x2="50.00" y2="442.03" stroke="#1a1a1a" stroke-width="0.55"/>
<line x1="48.60" y1="440.41" x2="50.00" y2="440.41" stroke="#1a1a1a" stroke-width="0.55"/>
<line x1="48.60" y1="439.04" x2="50.00" y2="439.04" stroke="#1a1a1a" stroke-width="0.55"/>
<line x1="48.60" y1="437.85" x2="50.00" y2="437.85" stroke="#1a1a1a" stroke-width="0.55"/>
<line x1="48.60" y1="436.81" x2="50.00" y2="436.81" stroke="#1a1a1a" stroke-width="0.55"/>
<line x1="48.60" y1="470.65" x2="50.00" y2="470.65" stroke="#1a1a1a" stroke-width="0.55"/>
<line x1="48.60" y1="467.04" x2="50.00" y2="467.04" stroke="#1a1a1a" stroke-width="0.55"/>
<line x1="48.60" y1="464.49" x2="50.00" y2="464.49" stroke="#1a1a1a" stroke-width="0.55"/>
<line x1="48.60" y1="462.50" x2="50.00" y2="462.50" stroke="#1a1a1a" stroke-width="0.55"/>
<line x1="48.60" y1="460.88" x2="50.00" y2="460.88" stroke="#1a1a1a" stroke-width="0.55"/>
<line x1="48.60" y1="459.51" x2="50.00" y2="459.51" stroke="#1a1a1a" stroke-width="0.55"/>
<line x1="48.60" y1="458.32" x2="50.00" y2="458.32" stroke="#1a1a1a" stroke-width="0.55"/>
<line x1="48.60" y1="457.28" x2="50.00" y2="457.28" stroke="#1a1a1a" stroke-width="0.55"/>
<line x1="48.60" y1="491.12" x2="50.00" y2="491.12" stroke="#1a1a1a" stroke-width="0.55"/>
<line x1="48.60" y1="487.51" x2="50.00" y2="487.51" stroke="#1a1a1a" stroke-width="0.55"/>
<line x1="48.60" y1="484.96" x2="50.00" y2="484.96" stroke="#1a1a1a" stroke-width="0.55"/>
<line x1="48.60" y1="482.97" x2="50.00" y2="482.97" stroke="#1a1a1a" stroke-width="0.55"/>
<line x1="48.60" y1="481.35" x2="50.00" y2="481.35" stroke="#1a1a1a" stroke-width="0.55"/>
<line x1="48.60" y1="479.98" x2="50.00" y2="479.98" stroke="#1a1a1a" stroke-width="0.55"/>
<line x1="48.60" y1="478.79" x2="50.00" y2="478.79" stroke="#1a1a1a" stroke-width="0.55"/>
<line x1="48.60" y1="477.75" x2="50.00" y2="477.75" stroke="#1a1a1a" stroke-width="0.55"/>
<line x1="48.60" y1="511.59" x2="50.00" y2="511.59" stroke="#1a1a1a" stroke-width="0.55"/>
<line x1="48.60" y1="507.98" x2="50.00" y2="507.98" stroke="#1a1a1a" stroke-width="0.55"/>
<line x1="48.60" y1="505.43" x2="50.00" y2="505.43" stroke="#1a1a1a" stroke-width="0.55"/>
<line x1="48.60" y1="503.44" x2="50.00" y2="503.44" stroke="#1a1a1a" stroke-width="0.55"/>
<line x1="48.60" y1="501.82" x2="50.00" y2="501.82" stroke="#1a1a1a" stroke-width="0.55"/>
<line x1="48.60" y1="500.45" x2="50.00" y2="500.45" stroke="#1a1a1a" stroke-width="0.55"/>
<line x1="48.60" y1="499.26" x2="50.00" y2="499.26" stroke="#1a1a1a" stroke-width="0.55"/>
<line x1="48.60" y1="498.22" x2="50.00" y2="498.22" stroke="#1a1a1a" stroke-width="0.55"/>
<text x="13.10" y="463.20" font-size="6.9" text-anchor="middle" textLength="45.90" lengthAdjust="spacingAndGlyphs" transform="rotate(-90 13.10 463.20)">Copies/ug DNA</text>
<line x1="53.50" y1="517.80" x2="53.50" y2="520.20" stroke="#1a1a1a" stroke-width="1.0"/>
<text x="56.80" y="528.10" font-size="6.5" text-anchor="end" textLength="23.69" lengthAdjust="spacingAndGlyphs" transform="rotate(-45 56.80 528.10)">Baseline</text>
<line x1="68.46" y1="517.80" x2="68.46" y2="520.20" stroke="#1a1a1a" stroke-width="1.0"/>
<text x="71.76" y="528.10" font-size="6.5" text-anchor="end" textLength="7.01" lengthAdjust="spacingAndGlyphs" transform="rotate(-45 71.76 528.10)">60</text>
<line x1="83.43" y1="517.80" x2="83.43" y2="520.20" stroke="#1a1a1a" stroke-width="1.0"/>
<text x="86.73" y="528.10" font-size="6.5" text-anchor="end" textLength="10.52" lengthAdjust="spacingAndGlyphs" transform="rotate(-45 86.73 528.10)">120</text>
<line x1="98.39" y1="517.80" x2="98.39" y2="520.20" stroke="#1a1a1a" stroke-width="1.0"/>
<text x="101.69" y="528.10" font-size="6.5" text-anchor="end" textLength="10.52" lengthAdjust="spacingAndGlyphs" transform="rotate(-45 101.69 528.10)">180</text>
<line x1="113.36" y1="517.80" x2="113.36" y2="520.20" stroke="#1a1a1a" stroke-width="1.0"/>
<text x="116.66" y="528.10" font-size="6.5" text-anchor="end" textLength="10.52" lengthAdjust="spacingAndGlyphs" transform="rotate(-45 116.66 528.10)">240</text>
<line x1="128.32" y1="517.80" x2="128.32" y2="520.20" stroke="#1a1a1a" stroke-width="1.0"/>
<text x="131.62" y="528.10" font-size="6.5" text-anchor="end" textLength="10.52" lengthAdjust="spacingAndGlyphs" transform="rotate(-45 131.62 528.10)">300</text>
<line x1="143.28" y1="517.80" x2="143.28" y2="520.20" stroke="#1a1a1a" stroke-width="1.0"/>
<text x="146.58" y="528.10" font-size="6.5" text-anchor="end" textLength="10.52" lengthAdjust="spacingAndGlyphs" transform="rotate(-45 146.58 528.10)">360</text>
<line x1="158.25" y1="517.80" x2="158.25" y2="520.20" stroke="#1a1a1a" stroke-width="1.0"/>
<text x="161.55" y="528.10" font-size="6.5" text-anchor="end" textLength="10.52" lengthAdjust="spacingAndGlyphs" transform="rotate(-45 161.55 528.10)">420</text>
<line x1="173.21" y1="517.80" x2="173.21" y2="520.20" stroke="#1a1a1a" stroke-width="1.0"/>
<text x="176.51" y="528.10" font-size="6.5" text-anchor="end" textLength="10.52" lengthAdjust="spacingAndGlyphs" transform="rotate(-45 176.51 528.10)">480</text>
<line x1="188.18" y1="517.80" x2="188.18" y2="520.20" stroke="#1a1a1a" stroke-width="1.0"/>
<text x="191.48" y="528.10" font-size="6.5" text-anchor="end" textLength="10.52" lengthAdjust="spacingAndGlyphs" transform="rotate(-45 191.48 528.10)">540</text>
<line x1="203.14" y1="517.80" x2="203.14" y2="520.20" stroke="#1a1a1a" stroke-width="1.0"/>
<text x="206.44" y="528.10" font-size="6.5" text-anchor="end" textLength="10.52" lengthAdjust="spacingAndGlyphs" transform="rotate(-45 206.44 528.10)">600</text>
<line x1="218.10" y1="517.80" x2="218.10" y2="520.20" stroke="#1a1a1a" stroke-width="1.0"/>
<text x="221.40" y="528.10" font-size="6.5" text-anchor="end" textLength="10.52" lengthAdjust="spacingAndGlyphs" transform="rotate(-45 221.40 528.10)">660</text>
<line x1="233.07" y1="517.80" x2="233.07" y2="520.20" stroke="#1a1a1a" stroke-width="1.0"/>
<text x="236.37" y="528.10" font-size="6.5" text-anchor="end" textLength="10.52" lengthAdjust="spacingAndGlyphs" transform="rotate(-45 236.37 528.10)">720</text>
<line x1="248.03" y1="517.80" x2="248.03" y2="520.20" stroke="#1a1a1a" stroke-width="1.0"/>
<text x="251.33" y="528.10" font-size="6.5" text-anchor="end" textLength="10.52" lengthAdjust="spacingAndGlyphs" transform="rotate(-45 251.33 528.10)">780</text>
<line x1="60.98" y1="517.80" x2="60.98" y2="519.10" stroke="#1a1a1a" stroke-width="0.6"/>
<line x1="75.95" y1="517.80" x2="75.95" y2="519.10" stroke="#1a1a1a" stroke-width="0.6"/>
<line x1="90.91" y1="517.80" x2="90.91" y2="519.10" stroke="#1a1a1a" stroke-width="0.6"/>
<line x1="105.87" y1="517.80" x2="105.87" y2="519.10" stroke="#1a1a1a" stroke-width="0.6"/>
<line x1="120.84" y1="517.80" x2="120.84" y2="519.10" stroke="#1a1a1a" stroke-width="0.6"/>
<line x1="135.80" y1="517.80" x2="135.80" y2="519.10" stroke="#1a1a1a" stroke-width="0.6"/>
<line x1="150.77" y1="517.80" x2="150.77" y2="519.10" stroke="#1a1a1a" stroke-width="0.6"/>
<line x1="165.73" y1="517.80" x2="165.73" y2="519.10" stroke="#1a1a1a" stroke-width="0.6"/>
<line x1="180.69" y1="517.80" x2="180.69" y2="519.10" stroke="#1a1a1a" stroke-width="0.6"/>
<line x1="195.66" y1="517.80" x2="195.66" y2="519.10" stroke="#1a1a1a" stroke-width="0.6"/>
<line x1="210.62" y1="517.80" x2="210.62" y2="519.10" stroke="#1a1a1a" stroke-width="0.6"/>
<line x1="225.59" y1="517.80" x2="225.59" y2="519.10" stroke="#1a1a1a" stroke-width="0.6"/>
<line x1="240.55" y1="517.80" x2="240.55" y2="519.10" stroke="#1a1a1a" stroke-width="0.6"/>
<text x="136.20" y="553.60" font-size="8.4" textLength="29.50" lengthAdjust="spacingAndGlyphs">Study day</text>
<text x="168.30" y="416.70" font-size="6.3" textLength="49.30" lengthAdjust="spacingAndGlyphs">Treatment Group</text>
<rect x="168.30" y="420.50" width="3.8" height="3.8" fill="#1e7a3c"/>
<text x="174.70" y="424.50" font-size="6.3" textLength="54.40" lengthAdjust="spacingAndGlyphs">50×10^6 (No Pem)</text>
<rect x="168.30" y="428.00" width="3.8" height="3.8" fill="#34207a"/>
<text x="174.70" y="432.00" font-size="6.3" textLength="57.10" lengthAdjust="spacingAndGlyphs">50×10^6 (D14 Pem)</text>
<rect x="168.30" y="435.50" width="3.8" height="3.8" fill="#111"/>
<text x="174.70" y="439.50" font-size="6.3" textLength="74.50" lengthAdjust="spacingAndGlyphs">150-450×10^6 (D14 Pem)</text>
<rect x="168.30" y="443.00" width="3.8" height="3.8" fill="#eea028"/>
<text x="174.70" y="447.00" font-size="6.3" textLength="73.00" lengthAdjust="spacingAndGlyphs">150-450×10^6 (D-1 Pem)</text>
<text x="267.30" y="404.10" font-size="10.4" font-weight="bold" fill="#000" textLength="8.49" lengthAdjust="spacingAndGlyphs">H</text>
<line x1="310.00" y1="409.50" x2="310.00" y2="518.30" stroke="#1a1a1a" stroke-width="1.15"/>
<line x1="309.50" y1="517.80" x2="511.80" y2="517.80" stroke="#1a1a1a" stroke-width="1.15"/>
<line x1="307.40" y1="415.40" x2="310.00" y2="415.40" stroke="#1a1a1a" stroke-width="1.0"/>
<text x="304.20" y="417.40" font-size="6.4" text-anchor="end" textLength="25.50" lengthAdjust="spacingAndGlyphs">1000000</text>
<line x1="307.40" y1="435.87" x2="310.00" y2="435.87" stroke="#1a1a1a" stroke-width="1.0"/>
<text x="304.20" y="437.87" font-size="6.4" text-anchor="end" textLength="21.90" lengthAdjust="spacingAndGlyphs">100000</text>
<line x1="307.40" y1="456.34" x2="310.00" y2="456.34" stroke="#1a1a1a" stroke-width="1.0"/>
<text x="304.20" y="458.34" font-size="6.4" text-anchor="end" textLength="18.30" lengthAdjust="spacingAndGlyphs">10000</text>
<line x1="307.40" y1="476.81" x2="310.00" y2="476.81" stroke="#1a1a1a" stroke-width="1.0"/>
<text x="304.20" y="478.81" font-size="6.4" text-anchor="end" textLength="14.70" lengthAdjust="spacingAndGlyphs">1000</text>
<line x1="307.40" y1="497.28" x2="310.00" y2="497.28" stroke="#1a1a1a" stroke-width="1.0"/>
<text x="304.20" y="499.28" font-size="6.4" text-anchor="end" textLength="11.10" lengthAdjust="spacingAndGlyphs">100</text>
<line x1="308.60" y1="429.71" x2="310.00" y2="429.71" stroke="#1a1a1a" stroke-width="0.55"/>
<line x1="308.60" y1="426.10" x2="310.00" y2="426.10" stroke="#1a1a1a" stroke-width="0.55"/>
<line x1="308.60" y1="423.55" x2="310.00" y2="423.55" stroke="#1a1a1a" stroke-width="0.55"/>
<line x1="308.60" y1="421.56" x2="310.00" y2="421.56" stroke="#1a1a1a" stroke-width="0.55"/>
<line x1="308.60" y1="419.94" x2="310.00" y2="419.94" stroke="#1a1a1a" stroke-width="0.55"/>
<line x1="308.60" y1="418.57" x2="310.00" y2="418.57" stroke="#1a1a1a" stroke-width="0.55"/>
<line x1="308.60" y1="417.38" x2="310.00" y2="417.38" stroke="#1a1a1a" stroke-width="0.55"/>
<line x1="308.60" y1="416.34" x2="310.00" y2="416.34" stroke="#1a1a1a" stroke-width="0.55"/>
<line x1="308.60" y1="450.18" x2="310.00" y2="450.18" stroke="#1a1a1a" stroke-width="0.55"/>
<line x1="308.60" y1="446.57" x2="310.00" y2="446.57" stroke="#1a1a1a" stroke-width="0.55"/>
<line x1="308.60" y1="444.02" x2="310.00" y2="444.02" stroke="#1a1a1a" stroke-width="0.55"/>
<line x1="308.60" y1="442.03" x2="310.00" y2="442.03" stroke="#1a1a1a" stroke-width="0.55"/>
<line x1="308.60" y1="440.41" x2="310.00" y2="440.41" stroke="#1a1a1a" stroke-width="0.55"/>
<line x1="308.60" y1="439.04" x2="310.00" y2="439.04" stroke="#1a1a1a" stroke-width="0.55"/>
<line x1="308.60" y1="437.85" x2="310.00" y2="437.85" stroke="#1a1a1a" stroke-width="0.55"/>
<line x1="308.60" y1="436.81" x2="310.00" y2="436.81" stroke="#1a1a1a" stroke-width="0.55"/>
<line x1="308.60" y1="470.65" x2="310.00" y2="470.65" stroke="#1a1a1a" stroke-width="0.55"/>
<line x1="308.60" y1="467.04" x2="310.00" y2="467.04" stroke="#1a1a1a" stroke-width="0.55"/>
<line x1="308.60" y1="464.49" x2="310.00" y2="464.49" stroke="#1a1a1a" stroke-width="0.55"/>
<line x1="308.60" y1="462.50" x2="310.00" y2="462.50" stroke="#1a1a1a" stroke-width="0.55"/>
<line x1="308.60" y1="460.88" x2="310.00" y2="460.88" stroke="#1a1a1a" stroke-width="0.55"/>
<line x1="308.60" y1="459.51" x2="310.00" y2="459.51" stroke="#1a1a1a" stroke-width="0.55"/>
<line x1="308.60" y1="458.32" x2="310.00" y2="458.32" stroke="#1a1a1a" stroke-width="0.55"/>
<line x1="308.60" y1="457.28" x2="310.00" y2="457.28" stroke="#1a1a1a" stroke-width="0.55"/>
<line x1="308.60" y1="491.12" x2="310.00" y2="491.12" stroke="#1a1a1a" stroke-width="0.55"/>
<line x1="308.60" y1="487.51" x2="310.00" y2="487.51" stroke="#1a1a1a" stroke-width="0.55"/>
<line x1="308.60" y1="484.96" x2="310.00" y2="484.96" stroke="#1a1a1a" stroke-width="0.55"/>
<line x1="308.60" y1="482.97" x2="310.00" y2="482.97" stroke="#1a1a1a" stroke-width="0.55"/>
<line x1="308.60" y1="481.35" x2="310.00" y2="481.35" stroke="#1a1a1a" stroke-width="0.55"/>
<line x1="308.60" y1="479.98" x2="310.00" y2="479.98" stroke="#1a1a1a" stroke-width="0.55"/>
<line x1="308.60" y1="478.79" x2="310.00" y2="478.79" stroke="#1a1a1a" stroke-width="0.55"/>
<line x1="308.60" y1="477.75" x2="310.00" y2="477.75" stroke="#1a1a1a" stroke-width="0.55"/>
<line x1="308.60" y1="511.59" x2="310.00" y2="511.59" stroke="#1a1a1a" stroke-width="0.55"/>
<line x1="308.60" y1="507.98" x2="310.00" y2="507.98" stroke="#1a1a1a" stroke-width="0.55"/>
<line x1="308.60" y1="505.43" x2="310.00" y2="505.43" stroke="#1a1a1a" stroke-width="0.55"/>
<line x1="308.60" y1="503.44" x2="310.00" y2="503.44" stroke="#1a1a1a" stroke-width="0.55"/>
<line x1="308.60" y1="501.82" x2="310.00" y2="501.82" stroke="#1a1a1a" stroke-width="0.55"/>
<line x1="308.60" y1="500.45" x2="310.00" y2="500.45" stroke="#1a1a1a" stroke-width="0.55"/>
<line x1="308.60" y1="499.26" x2="310.00" y2="499.26" stroke="#1a1a1a" stroke-width="0.55"/>
<line x1="308.60" y1="498.22" x2="310.00" y2="498.22" stroke="#1a1a1a" stroke-width="0.55"/>
<text x="273.10" y="463.20" font-size="6.9" text-anchor="middle" textLength="45.90" lengthAdjust="spacingAndGlyphs" transform="rotate(-90 273.10 463.20)">Copies/ug DNA</text>
<line x1="313.50" y1="517.80" x2="313.50" y2="520.20" stroke="#1a1a1a" stroke-width="1.0"/>
<text x="316.80" y="528.10" font-size="6.5" text-anchor="end" textLength="23.69" lengthAdjust="spacingAndGlyphs" transform="rotate(-45 316.80 528.10)">Baseline</text>
<line x1="328.46" y1="517.80" x2="328.46" y2="520.20" stroke="#1a1a1a" stroke-width="1.0"/>
<text x="331.76" y="528.10" font-size="6.5" text-anchor="end" textLength="7.01" lengthAdjust="spacingAndGlyphs" transform="rotate(-45 331.76 528.10)">60</text>
<line x1="343.43" y1="517.80" x2="343.43" y2="520.20" stroke="#1a1a1a" stroke-width="1.0"/>
<text x="346.73" y="528.10" font-size="6.5" text-anchor="end" textLength="10.52" lengthAdjust="spacingAndGlyphs" transform="rotate(-45 346.73 528.10)">120</text>
<line x1="358.39" y1="517.80" x2="358.39" y2="520.20" stroke="#1a1a1a" stroke-width="1.0"/>
<text x="361.69" y="528.10" font-size="6.5" text-anchor="end" textLength="10.52" lengthAdjust="spacingAndGlyphs" transform="rotate(-45 361.69 528.10)">180</text>
<line x1="373.36" y1="517.80" x2="373.36" y2="520.20" stroke="#1a1a1a" stroke-width="1.0"/>
<text x="376.66" y="528.10" font-size="6.5" text-anchor="end" textLength="10.52" lengthAdjust="spacingAndGlyphs" transform="rotate(-45 376.66 528.10)">240</text>
<line x1="388.32" y1="517.80" x2="388.32" y2="520.20" stroke="#1a1a1a" stroke-width="1.0"/>
<text x="391.62" y="528.10" font-size="6.5" text-anchor="end" textLength="10.52" lengthAdjust="spacingAndGlyphs" transform="rotate(-45 391.62 528.10)">300</text>
<line x1="403.28" y1="517.80" x2="403.28" y2="520.20" stroke="#1a1a1a" stroke-width="1.0"/>
<text x="406.58" y="528.10" font-size="6.5" text-anchor="end" textLength="10.52" lengthAdjust="spacingAndGlyphs" transform="rotate(-45 406.58 528.10)">360</text>
<line x1="418.25" y1="517.80" x2="418.25" y2="520.20" stroke="#1a1a1a" stroke-width="1.0"/>
<text x="421.55" y="528.10" font-size="6.5" text-anchor="end" textLength="10.52" lengthAdjust="spacingAndGlyphs" transform="rotate(-45 421.55 528.10)">420</text>
<line x1="433.21" y1="517.80" x2="433.21" y2="520.20" stroke="#1a1a1a" stroke-width="1.0"/>
<text x="436.51" y="528.10" font-size="6.5" text-anchor="end" textLength="10.52" lengthAdjust="spacingAndGlyphs" transform="rotate(-45 436.51 528.10)">480</text>
<line x1="448.18" y1="517.80" x2="448.18" y2="520.20" stroke="#1a1a1a" stroke-width="1.0"/>
<text x="451.48" y="528.10" font-size="6.5" text-anchor="end" textLength="10.52" lengthAdjust="spacingAndGlyphs" transform="rotate(-45 451.48 528.10)">540</text>
<line x1="463.14" y1="517.80" x2="463.14" y2="520.20" stroke="#1a1a1a" stroke-width="1.0"/>
<text x="466.44" y="528.10" font-size="6.5" text-anchor="end" textLength="10.52" lengthAdjust="spacingAndGlyphs" transform="rotate(-45 466.44 528.10)">600</text>
<line x1="478.10" y1="517.80" x2="478.10" y2="520.20" stroke="#1a1a1a" stroke-width="1.0"/>
<text x="481.40" y="528.10" font-size="6.5" text-anchor="end" textLength="10.52" lengthAdjust="spacingAndGlyphs" transform="rotate(-45 481.40 528.10)">660</text>
<line x1="493.07" y1="517.80" x2="493.07" y2="520.20" stroke="#1a1a1a" stroke-width="1.0"/>
<text x="496.37" y="528.10" font-size="6.5" text-anchor="end" textLength="10.52" lengthAdjust="spacingAndGlyphs" transform="rotate(-45 496.37 528.10)">720</text>
<line x1="508.03" y1="517.80" x2="508.03" y2="520.20" stroke="#1a1a1a" stroke-width="1.0"/>
<text x="511.33" y="528.10" font-size="6.5" text-anchor="end" textLength="10.52" lengthAdjust="spacingAndGlyphs" transform="rotate(-45 511.33 528.10)">780</text>
<line x1="320.98" y1="517.80" x2="320.98" y2="519.10" stroke="#1a1a1a" stroke-width="0.6"/>
<line x1="335.95" y1="517.80" x2="335.95" y2="519.10" stroke="#1a1a1a" stroke-width="0.6"/>
<line x1="350.91" y1="517.80" x2="350.91" y2="519.10" stroke="#1a1a1a" stroke-width="0.6"/>
<line x1="365.87" y1="517.80" x2="365.87" y2="519.10" stroke="#1a1a1a" stroke-width="0.6"/>
<line x1="380.84" y1="517.80" x2="380.84" y2="519.10" stroke="#1a1a1a" stroke-width="0.6"/>
<line x1="395.80" y1="517.80" x2="395.80" y2="519.10" stroke="#1a1a1a" stroke-width="0.6"/>
<line x1="410.77" y1="517.80" x2="410.77" y2="519.10" stroke="#1a1a1a" stroke-width="0.6"/>
<line x1="425.73" y1="517.80" x2="425.73" y2="519.10" stroke="#1a1a1a" stroke-width="0.6"/>
<line x1="440.69" y1="517.80" x2="440.69" y2="519.10" stroke="#1a1a1a" stroke-width="0.6"/>
<line x1="455.66" y1="517.80" x2="455.66" y2="519.10" stroke="#1a1a1a" stroke-width="0.6"/>
<line x1="470.62" y1="517.80" x2="470.62" y2="519.10" stroke="#1a1a1a" stroke-width="0.6"/>
<line x1="485.59" y1="517.80" x2="485.59" y2="519.10" stroke="#1a1a1a" stroke-width="0.6"/>
<line x1="500.55" y1="517.80" x2="500.55" y2="519.10" stroke="#1a1a1a" stroke-width="0.6"/>
<text x="396.20" y="553.60" font-size="8.4" textLength="29.50" lengthAdjust="spacingAndGlyphs">Study day</text>
<text x="446.00" y="416.70" font-size="6.3" textLength="64.00" lengthAdjust="spacingAndGlyphs">Best Overall Response</text>
<rect x="446.00" y="420.50" width="3.8" height="3.8" fill="#1e7a3c"/>
<text x="452.40" y="424.50" font-size="6.3" textLength="57.30" lengthAdjust="spacingAndGlyphs">Complete Response</text>
<rect x="446.00" y="428.00" width="3.8" height="3.8" fill="#34207a"/>
<text x="452.40" y="432.00" font-size="6.3" textLength="46.50" lengthAdjust="spacingAndGlyphs">Partial Response</text>
<rect x="446.00" y="435.50" width="3.8" height="3.8" fill="#111"/>
<text x="452.40" y="439.50" font-size="6.3" textLength="37.50" lengthAdjust="spacingAndGlyphs">No Response</text>
<rect x="446.00" y="443.00" width="3.8" height="3.8" fill="#eea028"/>
<text x="452.40" y="447.00" font-size="6.3" textLength="56.10" lengthAdjust="spacingAndGlyphs">Progressive Disease</text>
<polygon points="53.6,517.8 54.2,470 55.0,452 57.5,449 60.0,452 61.2,470 62.2,517.8" fill="#eea040" fill-opacity="0.55"/>
<polygon points="54.6,517.8 55.0,470 55.8,455 57.0,453 57.5,470 57.2,517.8" fill="#d07818" fill-opacity="0.35"/>
<polygon points="315.4,470 315.6,452 317.0,449 318.6,452 319.0,470" fill="#1a6a55" fill-opacity="0.7"/>
<polyline points="54.13,517.80 57.35,507.30 58.72,517.80" fill="none" stroke="#ee9a28" stroke-width="0.6" stroke-opacity="0.8" stroke-linejoin="round"/>
<polyline points="54.32,517.80 55.78,481.74 57.52,517.80" fill="none" stroke="#6a7080" stroke-width="0.6" stroke-opacity="0.7" stroke-linejoin="round"/>
<polyline points="53.63,517.80 56.27,455.62 58.44,517.80" fill="none" stroke="#ee9a28" stroke-width="0.6" stroke-opacity="0.8" stroke-linejoin="round"/>
<polyline points="53.56,517.80 59.13,509.81 60.93,517.80" fill="none" stroke="#ee9a28" stroke-width="0.6" stroke-opacity="0.8" stroke-linejoin="round"/>
<polyline points="53.72,517.80 55.06,482.76 55.50,517.80" fill="none" stroke="#ee9a28" stroke-width="0.6" stroke-opacity="0.8" stroke-linejoin="round"/>
<polyline points="53.84,517.80 55.13,478.76 56.44,517.80" fill="none" stroke="#6a7080" stroke-width="0.6" stroke-opacity="0.7" stroke-linejoin="round"/>
<polyline points="54.23,517.80 57.69,480.99 59.51,517.80" fill="none" stroke="#ee9a28" stroke-width="0.6" stroke-opacity="0.8" stroke-linejoin="round"/>
<polyline points="53.89,517.80 59.19,511.73 61.42,517.80" fill="none" stroke="#ee9a28" stroke-width="0.6" stroke-opacity="0.8" stroke-linejoin="round"/>
<polyline points="53.94,517.80 55.96,467.92 56.43,517.80" fill="none" stroke="#ee9a28" stroke-width="0.6" stroke-opacity="0.8" stroke-linejoin="round"/>
<polyline points="54.06,517.80 58.56,473.96 61.06,517.80" fill="none" stroke="#6a7080" stroke-width="0.6" stroke-opacity="0.7" stroke-linejoin="round"/>
<polyline points="53.50,517.80 55.88,506.44 57.26,517.80" fill="none" stroke="#1f8a45" stroke-width="0.6" stroke-opacity="0.8" stroke-linejoin="round"/>
<polyline points="54.06,517.80 55.31,489.03 57.40,517.80" fill="none" stroke="#ee9a28" stroke-width="0.6" stroke-opacity="0.8" stroke-linejoin="round"/>
<polyline points="53.62,517.80 56.40,509.77 58.44,517.80" fill="none" stroke="#ee9a28" stroke-width="0.6" stroke-opacity="0.8" stroke-linejoin="round"/>
<polyline points="53.84,517.80 55.42,453.71 57.56,517.80" fill="none" stroke="#ee9a28" stroke-width="0.6" stroke-opacity="0.8" stroke-linejoin="round"/>
<polyline points="54.28,517.80 56.88,461.82 58.86,517.80" fill="none" stroke="#ee9a28" stroke-width="0.6" stroke-opacity="0.8" stroke-linejoin="round"/>
<polyline points="54.40,517.80 55.49,476.09 56.28,517.80" fill="none" stroke="#ee9a28" stroke-width="0.6" stroke-opacity="0.8" stroke-linejoin="round"/>
<polyline points="54.86,517.80 58.37,468.86 60.71,517.80" fill="none" stroke="#ee9a28" stroke-width="0.6" stroke-opacity="0.8" stroke-linejoin="round"/>
<polyline points="54.05,517.80 58.59,489.79 59.12,517.80" fill="none" stroke="#1f8a45" stroke-width="0.6" stroke-opacity="0.8" stroke-linejoin="round"/>
<polyline points="53.80,517.80 56.08,497.91 57.14,517.80" fill="none" stroke="#ee9a28" stroke-width="0.6" stroke-opacity="0.8" stroke-linejoin="round"/>
<polyline points="53.60,517.80 55.38,486.13 56.24,517.80" fill="none" stroke="#ee9a28" stroke-width="0.6" stroke-opacity="0.8" stroke-linejoin="round"/>
<polyline points="54.02,517.80 56.90,509.47 58.32,517.80" fill="none" stroke="#ee9a28" stroke-width="0.6" stroke-opacity="0.8" stroke-linejoin="round"/>
<polyline points="54.71,517.80 55.77,459.56 58.16,517.80" fill="none" stroke="#6a7080" stroke-width="0.6" stroke-opacity="0.7" stroke-linejoin="round"/>
<polyline points="53.85,517.80 55.80,495.84 58.26,517.80" fill="none" stroke="#ee9a28" stroke-width="0.6" stroke-opacity="0.8" stroke-linejoin="round"/>
<polyline points="54.83,517.80 58.71,487.42 59.97,517.80" fill="none" stroke="#ee9a28" stroke-width="0.6" stroke-opacity="0.8" stroke-linejoin="round"/>
<polyline points="53.55,517.80 59.04,464.78 60.96,517.80" fill="none" stroke="#ee9a28" stroke-width="0.6" stroke-opacity="0.8" stroke-linejoin="round"/>
<polyline points="54.65,517.80 57.51,468.19 58.21,517.80" fill="none" stroke="#ee9a28" stroke-width="0.6" stroke-opacity="0.8" stroke-linejoin="round"/>
<polyline points="53.60,517.80 55.96,484.68 58.22,517.80" fill="none" stroke="#ee9a28" stroke-width="0.6" stroke-opacity="0.8" stroke-linejoin="round"/>
<polyline points="53.89,517.80 58.85,462.65 59.19,517.80" fill="none" stroke="#ee9a28" stroke-width="0.6" stroke-opacity="0.8" stroke-linejoin="round"/>
<polyline points="54.12,517.80 55.25,460.93 56.40,517.80" fill="none" stroke="#ee9a28" stroke-width="0.6" stroke-opacity="0.8" stroke-linejoin="round"/>
<polyline points="53.68,517.80 56.52,505.24 59.08,517.80" fill="none" stroke="#ee9a28" stroke-width="0.6" stroke-opacity="0.8" stroke-linejoin="round"/>
<polyline points="54.47,517.80 57.45,458.70 57.84,517.80" fill="none" stroke="#ee9a28" stroke-width="0.6" stroke-opacity="0.8" stroke-linejoin="round"/>
<polyline points="54.77,517.80 57.94,509.69 58.29,517.80" fill="none" stroke="#ee9a28" stroke-width="0.6" stroke-opacity="0.8" stroke-linejoin="round"/>
<polyline points="54.18,517.80 58.07,469.77 60.67,517.80" fill="none" stroke="#ee9a28" stroke-width="0.6" stroke-opacity="0.8" stroke-linejoin="round"/>
<polyline points="54.26,517.80 58.10,505.81 60.09,517.80" fill="none" stroke="#ee9a28" stroke-width="0.6" stroke-opacity="0.8" stroke-linejoin="round"/>
<polyline points="54.61,517.80 58.84,471.81 60.72,517.80" fill="none" stroke="#a86010" stroke-width="0.6" stroke-opacity="0.8" stroke-linejoin="round"/>
<polyline points="54.72,517.80 56.75,499.01 59.04,517.80" fill="none" stroke="#ee9a28" stroke-width="0.6" stroke-opacity="0.8" stroke-linejoin="round"/>
<polyline points="54.37,517.80 56.61,486.13 58.31,517.80" fill="none" stroke="#ee9a28" stroke-width="0.6" stroke-opacity="0.8" stroke-linejoin="round"/>
<polyline points="54.40,517.80 59.17,504.55 61.15,517.80" fill="none" stroke="#ee9a28" stroke-width="0.6" stroke-opacity="0.8" stroke-linejoin="round"/>
<polyline points="54.53,517.80 57.44,477.31 59.67,517.80" fill="none" stroke="#ee9a28" stroke-width="0.6" stroke-opacity="0.8" stroke-linejoin="round"/>
<polyline points="54.55,517.80 55.13,487.28 56.53,517.80" fill="none" stroke="#ee9a28" stroke-width="0.6" stroke-opacity="0.8" stroke-linejoin="round"/>
<polyline points="54.48,517.80 57.09,488.10 59.51,517.80" fill="none" stroke="#ee9a28" stroke-width="0.6" stroke-opacity="0.8" stroke-linejoin="round"/>
<polyline points="53.52,517.80 56.26,492.04 57.03,517.80" fill="none" stroke="#ee9a28" stroke-width="0.6" stroke-opacity="0.8" stroke-linejoin="round"/>
<polyline points="54.77,517.80 57.77,477.40 60.12,517.80" fill="none" stroke="#ee9a28" stroke-width="0.6" stroke-opacity="0.8" stroke-linejoin="round"/>
<polyline points="54.43,517.80 55.83,476.72 57.99,517.80" fill="none" stroke="#a86010" stroke-width="0.6" stroke-opacity="0.8" stroke-linejoin="round"/>
<polyline points="54.73,517.80 56.61,486.15 57.64,517.80" fill="none" stroke="#ee9a28" stroke-width="0.6" stroke-opacity="0.8" stroke-linejoin="round"/>
<polyline points="54.20,517.80 58.52,502.62 60.45,517.80" fill="none" stroke="#1f8a45" stroke-width="0.6" stroke-opacity="0.8" stroke-linejoin="round"/>
<polyline points="53.89,517.80 55.71,477.94 56.64,517.80" fill="none" stroke="#ee9a28" stroke-width="0.6" stroke-opacity="0.8" stroke-linejoin="round"/>
<polyline points="54.08,517.80 57.63,480.62 58.65,517.80" fill="none" stroke="#6a7080" stroke-width="0.6" stroke-opacity="0.7" stroke-linejoin="round"/>
<polyline points="54.87,517.80 56.90,454.63 57.27,517.80" fill="none" stroke="#6a7080" stroke-width="0.6" stroke-opacity="0.7" stroke-linejoin="round"/>
<polyline points="53.56,517.80 57.98,485.38 58.99,517.80" fill="none" stroke="#6a7080" stroke-width="0.6" stroke-opacity="0.7" stroke-linejoin="round"/>
<polyline points="53.53,517.80 55.57,478.20 55.93,517.80" fill="none" stroke="#6a7080" stroke-width="0.6" stroke-opacity="0.7" stroke-linejoin="round"/>
<polyline points="53.83,517.80 55.59,452.91 57.34,517.80" fill="none" stroke="#ee9a28" stroke-width="0.6" stroke-opacity="0.8" stroke-linejoin="round"/>
<polyline points="54.38,517.80 57.75,500.06 60.26,517.80" fill="none" stroke="#ee9a28" stroke-width="0.6" stroke-opacity="0.8" stroke-linejoin="round"/>
<polyline points="53.78,517.80 57.00,461.08 57.32,517.80" fill="none" stroke="#ee9a28" stroke-width="0.6" stroke-opacity="0.8" stroke-linejoin="round"/>
<polyline points="54.50,517.80 55.75,466.89 56.85,517.80" fill="none" stroke="#ee9a28" stroke-width="0.6" stroke-opacity="0.8" stroke-linejoin="round"/>
<polyline points="314.13,517.80 317.35,507.30" fill="none" stroke="#f3c27e" stroke-width="0.6" stroke-opacity="0.7" stroke-linejoin="round"/>
<polyline points="317.35,507.30 318.72,517.80" fill="none" stroke="#f4bd78" stroke-width="0.6" stroke-opacity="0.75" stroke-linejoin="round"/>
<polyline points="313.76,517.80 317.15,489.05" fill="none" stroke="#f3c27e" stroke-width="0.6" stroke-opacity="0.7" stroke-linejoin="round"/>
<polyline points="317.15,489.05 319.27,517.80" fill="none" stroke="#f4bd78" stroke-width="0.6" stroke-opacity="0.75" stroke-linejoin="round"/>
<polyline points="313.63,517.80 318.40,492.99" fill="none" stroke="#2f9a58" stroke-width="0.6" stroke-opacity="0.5" stroke-linejoin="round"/>
<polyline points="318.40,492.99 318.80,517.80" fill="none" stroke="#35268a" stroke-width="0.6" stroke-opacity="0.6" stroke-linejoin="round"/>
<polyline points="314.42,517.80 317.59,459.76" fill="none" stroke="#f3c27e" stroke-width="0.6" stroke-opacity="0.7" stroke-linejoin="round"/>
<polyline points="317.59,459.76 317.92,517.80" fill="none" stroke="#2f9a58" stroke-width="0.6" stroke-opacity="0.6" stroke-linejoin="round"/>
<polyline points="313.77,517.80 316.02,451.87" fill="none" stroke="#8a9a40" stroke-width="0.6" stroke-opacity="0.6" stroke-linejoin="round"/>
<polyline points="316.02,451.87 317.38,517.80" fill="none" stroke="#2f9a58" stroke-width="0.6" stroke-opacity="0.6" stroke-linejoin="round"/>
<polyline points="314.23,517.80 317.69,480.99" fill="none" stroke="#f3c27e" stroke-width="0.6" stroke-opacity="0.7" stroke-linejoin="round"/>
<polyline points="317.69,480.99 319.51,517.80" fill="none" stroke="#f4bd78" stroke-width="0.6" stroke-opacity="0.75" stroke-linejoin="round"/>
<polyline points="314.90,517.80 319.18,502.09" fill="none" stroke="#f3c27e" stroke-width="0.6" stroke-opacity="0.7" stroke-linejoin="round"/>
<polyline points="319.18,502.09 321.11,517.80" fill="none" stroke="#f4bd78" stroke-width="0.6" stroke-opacity="0.75" stroke-linejoin="round"/>
<polyline points="313.90,517.80 315.29,497.51" fill="none" stroke="#f3c27e" stroke-width="0.6" stroke-opacity="0.7" stroke-linejoin="round"/>
<polyline points="315.29,497.51 316.52,517.80" fill="none" stroke="#2f9a58" stroke-width="0.6" stroke-opacity="0.6" stroke-linejoin="round"/>
<polyline points="314.84,517.80 318.56,450.03" fill="none" stroke="#f3c27e" stroke-width="0.6" stroke-opacity="0.7" stroke-linejoin="round"/>
<polyline points="318.56,450.03 319.34,517.80" fill="none" stroke="#35268a" stroke-width="0.6" stroke-opacity="0.6" stroke-linejoin="round"/>
<polyline points="314.87,517.80 316.67,454.53" fill="none" stroke="#f3c27e" stroke-width="0.6" stroke-opacity="0.7" stroke-linejoin="round"/>
<polyline points="316.67,454.53 318.42,517.80" fill="none" stroke="#2f9a58" stroke-width="0.6" stroke-opacity="0.6" stroke-linejoin="round"/>
<polyline points="313.62,517.80 316.40,509.77" fill="none" stroke="#f3c27e" stroke-width="0.6" stroke-opacity="0.7" stroke-linejoin="round"/>
<polyline points="316.40,509.77 318.44,517.80" fill="none" stroke="#f4bd78" stroke-width="0.6" stroke-opacity="0.75" stroke-linejoin="round"/>
<polyline points="313.64,517.80 315.25,499.42" fill="none" stroke="#f3c27e" stroke-width="0.6" stroke-opacity="0.7" stroke-linejoin="round"/>
<polyline points="315.25,499.42 315.96,517.80" fill="none" stroke="#f4bd78" stroke-width="0.6" stroke-opacity="0.75" stroke-linejoin="round"/>
<polyline points="313.77,517.80 318.07,458.12" fill="none" stroke="#f3c27e" stroke-width="0.6" stroke-opacity="0.7" stroke-linejoin="round"/>
<polyline points="318.07,458.12 319.85,517.80" fill="none" stroke="#0f4f45" stroke-width="0.6" stroke-opacity="0.85" stroke-linejoin="round"/>
<polyline points="313.80,517.80 316.13,510.20" fill="none" stroke="#2f9a58" stroke-width="0.6" stroke-opacity="0.5" stroke-linejoin="round"/>
<polyline points="316.13,510.20 318.28,517.80" fill="none" stroke="#f4bd78" stroke-width="0.6" stroke-opacity="0.75" stroke-linejoin="round"/>
<polyline points="313.79,517.80 316.66,502.97" fill="none" stroke="#2f9a58" stroke-width="0.6" stroke-opacity="0.5" stroke-linejoin="round"/>
<polyline points="316.66,502.97 318.43,517.80" fill="none" stroke="#f4bd78" stroke-width="0.6" stroke-opacity="0.75" stroke-linejoin="round"/>
<polyline points="313.80,517.80 316.08,497.91" fill="none" stroke="#f3c27e" stroke-width="0.6" stroke-opacity="0.7" stroke-linejoin="round"/>
<polyline points="316.08,497.91 317.14,517.80" fill="none" stroke="#f4bd78" stroke-width="0.6" stroke-opacity="0.75" stroke-linejoin="round"/>
<polyline points="313.63,517.80 317.45,465.07" fill="none" stroke="#f3c27e" stroke-width="0.6" stroke-opacity="0.7" stroke-linejoin="round"/>
<polyline points="317.45,465.07 319.13,517.80" fill="none" stroke="#0f4f45" stroke-width="0.6" stroke-opacity="0.85" stroke-linejoin="round"/>
<polyline points="314.84,517.80 317.03,485.62" fill="none" stroke="#f3c27e" stroke-width="0.6" stroke-opacity="0.7" stroke-linejoin="round"/>
<polyline points="317.03,485.62 319.32,517.80" fill="none" stroke="#f4bd78" stroke-width="0.6" stroke-opacity="0.75" stroke-linejoin="round"/>
<polyline points="314.77,517.80 318.43,465.47" fill="none" stroke="#2f9a58" stroke-width="0.6" stroke-opacity="0.5" stroke-linejoin="round"/>
<polyline points="318.43,465.47 319.17,517.80" fill="none" stroke="#2f9a58" stroke-width="0.6" stroke-opacity="0.6" stroke-linejoin="round"/>
<polyline points="313.78,517.80 318.99,504.70" fill="none" stroke="#f3c27e" stroke-width="0.6" stroke-opacity="0.7" stroke-linejoin="round"/>
<polyline points="318.99,504.70 320.68,517.80" fill="none" stroke="#f4bd78" stroke-width="0.6" stroke-opacity="0.75" stroke-linejoin="round"/>
<polyline points="313.55,517.80 319.04,464.78" fill="none" stroke="#8a9a40" stroke-width="0.6" stroke-opacity="0.6" stroke-linejoin="round"/>
<polyline points="319.04,464.78 320.96,517.80" fill="none" stroke="#0f4f45" stroke-width="0.6" stroke-opacity="0.85" stroke-linejoin="round"/>
<polyline points="314.34,517.80 316.23,460.88" fill="none" stroke="#f3c27e" stroke-width="0.6" stroke-opacity="0.7" stroke-linejoin="round"/>
<polyline points="316.23,460.88 318.19,517.80" fill="none" stroke="#0f4f45" stroke-width="0.6" stroke-opacity="0.85" stroke-linejoin="round"/>
<polyline points="314.28,517.80 318.58,488.09" fill="none" stroke="#f3c27e" stroke-width="0.6" stroke-opacity="0.7" stroke-linejoin="round"/>
<polyline points="318.58,488.09 319.52,517.80" fill="none" stroke="#35268a" stroke-width="0.6" stroke-opacity="0.6" stroke-linejoin="round"/>
<polyline points="313.52,517.80 316.13,477.63" fill="none" stroke="#f3c27e" stroke-width="0.6" stroke-opacity="0.7" stroke-linejoin="round"/>
<polyline points="316.13,477.63 316.57,517.80" fill="none" stroke="#f4bd78" stroke-width="0.6" stroke-opacity="0.75" stroke-linejoin="round"/>
<polyline points="314.30,517.80 315.55,472.45" fill="none" stroke="#f3c27e" stroke-width="0.6" stroke-opacity="0.7" stroke-linejoin="round"/>
<polyline points="315.55,472.45 317.90,517.80" fill="none" stroke="#35268a" stroke-width="0.6" stroke-opacity="0.6" stroke-linejoin="round"/>
<polyline points="314.47,517.80 317.45,458.70" fill="none" stroke="#2f9a58" stroke-width="0.6" stroke-opacity="0.5" stroke-linejoin="round"/>
<polyline points="317.45,458.70 317.84,517.80" fill="none" stroke="#0f4f45" stroke-width="0.6" stroke-opacity="0.85" stroke-linejoin="round"/>
<polyline points="314.48,517.80 319.04,451.32" fill="none" stroke="#8a9a40" stroke-width="0.6" stroke-opacity="0.6" stroke-linejoin="round"/>
<polyline points="319.04,451.32 320.81,517.80" fill="none" stroke="#2f9a58" stroke-width="0.6" stroke-opacity="0.6" stroke-linejoin="round"/>
<polyline points="313.95,517.80 319.20,454.67" fill="none" stroke="#2f9a58" stroke-width="0.6" stroke-opacity="0.5" stroke-linejoin="round"/>
<polyline points="319.20,454.67 320.75,517.80" fill="none" stroke="#2f9a58" stroke-width="0.6" stroke-opacity="0.6" stroke-linejoin="round"/>
<polyline points="314.53,517.80 317.96,499.18" fill="none" stroke="#f3c27e" stroke-width="0.6" stroke-opacity="0.7" stroke-linejoin="round"/>
<polyline points="317.96,499.18 320.36,517.80" fill="none" stroke="#f4bd78" stroke-width="0.6" stroke-opacity="0.75" stroke-linejoin="round"/>
<polyline points="314.76,517.80 318.66,475.86" fill="none" stroke="#f3c27e" stroke-width="0.6" stroke-opacity="0.7" stroke-linejoin="round"/>
<polyline points="318.66,475.86 320.78,517.80" fill="none" stroke="#2f9a58" stroke-width="0.6" stroke-opacity="0.6" stroke-linejoin="round"/>
<polyline points="314.37,517.80 316.61,486.13" fill="none" stroke="#f3c27e" stroke-width="0.6" stroke-opacity="0.7" stroke-linejoin="round"/>
<polyline points="316.61,486.13 318.31,517.80" fill="none" stroke="#f4bd78" stroke-width="0.6" stroke-opacity="0.75" stroke-linejoin="round"/>
<polyline points="314.89,517.80 318.70,495.15" fill="none" stroke="#f3c27e" stroke-width="0.6" stroke-opacity="0.7" stroke-linejoin="round"/>
<polyline points="318.70,495.15 319.89,517.80" fill="none" stroke="#2f9a58" stroke-width="0.6" stroke-opacity="0.6" stroke-linejoin="round"/>
<polyline points="314.12,517.80 318.52,455.19" fill="none" stroke="#f3c27e" stroke-width="0.6" stroke-opacity="0.7" stroke-linejoin="round"/>
<polyline points="318.52,455.19 320.55,517.80" fill="none" stroke="#0f4f45" stroke-width="0.6" stroke-opacity="0.85" stroke-linejoin="round"/>
<polyline points="314.17,517.80 315.97,493.30" fill="none" stroke="#2f9a58" stroke-width="0.6" stroke-opacity="0.5" stroke-linejoin="round"/>
<polyline points="315.97,493.30 317.41,517.80" fill="none" stroke="#2f9a58" stroke-width="0.6" stroke-opacity="0.6" stroke-linejoin="round"/>
<polyline points="313.86,517.80 315.05,468.66" fill="none" stroke="#f3c27e" stroke-width="0.6" stroke-opacity="0.7" stroke-linejoin="round"/>
<polyline points="315.05,468.66 316.91,517.80" fill="none" stroke="#0f4f45" stroke-width="0.6" stroke-opacity="0.85" stroke-linejoin="round"/>
<polyline points="314.77,517.80 317.77,477.40" fill="none" stroke="#f3c27e" stroke-width="0.6" stroke-opacity="0.7" stroke-linejoin="round"/>
<polyline points="317.77,477.40 320.12,517.80" fill="none" stroke="#f4bd78" stroke-width="0.6" stroke-opacity="0.75" stroke-linejoin="round"/>
<polyline points="313.78,517.80 316.81,499.97" fill="none" stroke="#f3c27e" stroke-width="0.6" stroke-opacity="0.7" stroke-linejoin="round"/>
<polyline points="316.81,499.97 319.21,517.80" fill="none" stroke="#35268a" stroke-width="0.6" stroke-opacity="0.6" stroke-linejoin="round"/>
<polyline points="314.32,517.80 316.33,458.44" fill="none" stroke="#8a9a40" stroke-width="0.6" stroke-opacity="0.6" stroke-linejoin="round"/>
<polyline points="316.33,458.44 317.77,517.80" fill="none" stroke="#2f9a58" stroke-width="0.6" stroke-opacity="0.6" stroke-linejoin="round"/>
<polyline points="314.50,517.80 318.99,467.16" fill="none" stroke="#f3c27e" stroke-width="0.6" stroke-opacity="0.7" stroke-linejoin="round"/>
<polyline points="318.99,467.16 319.68,517.80" fill="none" stroke="#2f9a58" stroke-width="0.6" stroke-opacity="0.6" stroke-linejoin="round"/>
<polyline points="313.80,517.80 316.74,488.80" fill="none" stroke="#8a9a40" stroke-width="0.6" stroke-opacity="0.6" stroke-linejoin="round"/>
<polyline points="316.74,488.80 318.17,517.80" fill="none" stroke="#f4bd78" stroke-width="0.6" stroke-opacity="0.75" stroke-linejoin="round"/>
<polyline points="314.87,517.80 316.90,454.63" fill="none" stroke="#f3c27e" stroke-width="0.6" stroke-opacity="0.7" stroke-linejoin="round"/>
<polyline points="316.90,454.63 317.27,517.80" fill="none" stroke="#2f9a58" stroke-width="0.6" stroke-opacity="0.6" stroke-linejoin="round"/>
<polyline points="314.49,517.80 317.40,469.16" fill="none" stroke="#f3c27e" stroke-width="0.6" stroke-opacity="0.7" stroke-linejoin="round"/>
<polyline points="317.40,469.16 319.52,517.80" fill="none" stroke="#0f4f45" stroke-width="0.6" stroke-opacity="0.85" stroke-linejoin="round"/>
<polyline points="314.14,517.80 315.10,501.44" fill="none" stroke="#f3c27e" stroke-width="0.6" stroke-opacity="0.7" stroke-linejoin="round"/>
<polyline points="315.10,501.44 315.95,517.80" fill="none" stroke="#f4bd78" stroke-width="0.6" stroke-opacity="0.75" stroke-linejoin="round"/>
<polyline points="314.38,517.80 316.88,489.06" fill="none" stroke="#2f9a58" stroke-width="0.6" stroke-opacity="0.5" stroke-linejoin="round"/>
<polyline points="316.88,489.06 318.68,517.80" fill="none" stroke="#2f9a58" stroke-width="0.6" stroke-opacity="0.6" stroke-linejoin="round"/>
<polyline points="314.46,517.80 315.84,479.46" fill="none" stroke="#f3c27e" stroke-width="0.6" stroke-opacity="0.7" stroke-linejoin="round"/>
<polyline points="315.84,479.46 316.55,517.80" fill="none" stroke="#f4bd78" stroke-width="0.6" stroke-opacity="0.75" stroke-linejoin="round"/>
<polyline points="314.50,517.80 315.75,466.89" fill="none" stroke="#f3c27e" stroke-width="0.6" stroke-opacity="0.7" stroke-linejoin="round"/>
<polyline points="315.75,466.89 316.85,517.80" fill="none" stroke="#2f9a58" stroke-width="0.6" stroke-opacity="0.6" stroke-linejoin="round"/>
<polyline points="314.36,517.80 318.18,474.40" fill="none" stroke="#f3c27e" stroke-width="0.6" stroke-opacity="0.7" stroke-linejoin="round"/>
<polyline points="318.18,474.40 320.30,517.80" fill="none" stroke="#35268a" stroke-width="0.6" stroke-opacity="0.6" stroke-linejoin="round"/>
<polyline points="314.81,517.80 318.03,458.05" fill="none" stroke="#2f9a58" stroke-width="0.6" stroke-opacity="0.5" stroke-linejoin="round"/>
<polyline points="318.03,458.05 319.38,517.80" fill="none" stroke="#2f9a58" stroke-width="0.6" stroke-opacity="0.6" stroke-linejoin="round"/>
<polyline points="314.03,517.80 317.39,504.52" fill="none" stroke="#f3c27e" stroke-width="0.6" stroke-opacity="0.7" stroke-linejoin="round"/>
<polyline points="317.39,504.52 319.52,517.80" fill="none" stroke="#35268a" stroke-width="0.6" stroke-opacity="0.6" stroke-linejoin="round"/>
<polyline points="314.41,517.80 315.86,494.76" fill="none" stroke="#8a9a40" stroke-width="0.6" stroke-opacity="0.6" stroke-linejoin="round"/>
<polyline points="315.86,494.76 318.04,517.80" fill="none" stroke="#2f9a58" stroke-width="0.6" stroke-opacity="0.6" stroke-linejoin="round"/>
<polyline points="313.80,517.80 318.78,510.79" fill="none" stroke="#8a9a40" stroke-width="0.6" stroke-opacity="0.6" stroke-linejoin="round"/>
<polyline points="318.78,510.79 321.33,517.80" fill="none" stroke="#f4bd78" stroke-width="0.6" stroke-opacity="0.75" stroke-linejoin="round"/>
<polyline points="313.95,517.80 318.82,503.06" fill="none" stroke="#f3c27e" stroke-width="0.6" stroke-opacity="0.7" stroke-linejoin="round"/>
<polyline points="318.82,503.06 319.92,517.80" fill="none" stroke="#f4bd78" stroke-width="0.6" stroke-opacity="0.75" stroke-linejoin="round"/>
<polyline points="314.27,517.80 318.23,480.22" fill="none" stroke="#f3c27e" stroke-width="0.6" stroke-opacity="0.7" stroke-linejoin="round"/>
<polyline points="318.23,480.22 318.59,517.80" fill="none" stroke="#2f9a58" stroke-width="0.6" stroke-opacity="0.6" stroke-linejoin="round"/>
<polyline points="314.62,517.80 315.73,470.77" fill="none" stroke="#f3c27e" stroke-width="0.6" stroke-opacity="0.7" stroke-linejoin="round"/>
<polyline points="315.73,470.77 317.84,517.80" fill="none" stroke="#2f9a58" stroke-width="0.6" stroke-opacity="0.6" stroke-linejoin="round"/>
<polyline points="314.22,517.80 318.04,502.08" fill="none" stroke="#f3c27e" stroke-width="0.6" stroke-opacity="0.7" stroke-linejoin="round"/>
<polyline points="318.04,502.08 319.92,517.80" fill="none" stroke="#35268a" stroke-width="0.6" stroke-opacity="0.6" stroke-linejoin="round"/>
<polygon points="313.6,517.8 314.6,490 315.6,476 317.6,472 319.8,476 321.0,490 322.4,517.8" fill="#f5c888" fill-opacity="0.3"/>
<polygon points="315.6,476 316.2,462 317.2,460 318.6,462 319.5,476" fill="#d08030" fill-opacity="0.45"/>
<polyline points="57.00,488.00 57.20,517.80" fill="none" stroke="#4a9a50" stroke-width="0.9" stroke-opacity="0.8" stroke-linejoin="round"/>
<polyline points="58.90,470.00 58.90,517.80" fill="none" stroke="#4a9a50" stroke-width="0.7" stroke-opacity="0.7" stroke-linejoin="round"/>
<polyline points="55.80,445.00 56.20,470.00" fill="none" stroke="#7a7f90" stroke-width="0.9" stroke-opacity="0.6" stroke-linejoin="round"/>
<polygon points="315.6,468 315.8,452 316.8,448.5 318.2,451 318.8,468" fill="#135e4c" fill-opacity="0.75"/>
<polyline points="54.00,517.00 56.50,440.00 57.60,432.50 64.00,444.00 70.00,454.80 81.50,470.20 92.10,474.00 98.80,478.80 121.90,476.90 148.80,475.00" fill="none" stroke="#f3ba70" stroke-width="0.5" stroke-opacity="0.8" stroke-linejoin="round"/>
<polyline points="314.00,517.00 316.50,440.00" fill="none" stroke="#8a9a40" stroke-width="0.5" stroke-opacity="0.6" stroke-linejoin="round"/>
<polyline points="316.50,440.00 317.60,432.50 324.00,444.00 330.00,454.80 341.50,470.20 352.10,474.00 358.80,478.80 381.90,476.90 408.80,475.00" fill="none" stroke="#2e9a5c" stroke-width="0.5" stroke-opacity="0.85" stroke-linejoin="round"/>
<polyline points="54.00,517.00 57.50,441.00 60.00,440.00 61.50,441.00 81.20,470.50 93.80,474.10 120.00,475.20 135.00,476.00" fill="none" stroke="#f3ba70" stroke-width="0.5" stroke-opacity="0.8" stroke-linejoin="round"/>
<polyline points="314.00,517.00 317.50,441.00" fill="none" stroke="#8a9a40" stroke-width="0.5" stroke-opacity="0.6" stroke-linejoin="round"/>
<polyline points="317.50,441.00 320.00,440.00 321.50,441.00 341.20,470.50 353.80,474.10 380.00,475.20 395.00,476.00" fill="none" stroke="#2e9a5c" stroke-width="0.5" stroke-opacity="0.85" stroke-linejoin="round"/>
<polyline points="54.00,517.00 57.00,440.00 58.00,443.00 66.00,455.00 75.80,469.20 91.20,474.00 100.80,486.50 121.90,500.00 146.90,516.30" fill="none" stroke="#f3ba70" stroke-width="0.5" stroke-opacity="0.8" stroke-linejoin="round"/>
<polyline points="314.00,517.00 317.00,440.00" fill="none" stroke="#8a9a40" stroke-width="0.5" stroke-opacity="0.6" stroke-linejoin="round"/>
<polyline points="317.00,440.00 318.00,443.00 326.00,455.00 335.80,469.20 351.20,474.00 360.80,486.50 381.90,500.00 406.90,516.30" fill="none" stroke="#2e9a5c" stroke-width="0.5" stroke-opacity="0.85" stroke-linejoin="round"/>
<polyline points="54.00,517.00 58.00,446.00 59.00,447.00 70.00,460.00 81.50,470.20 98.80,478.80 120.00,485.00 146.90,492.30 170.00,490.40" fill="none" stroke="#f3ba70" stroke-width="0.5" stroke-opacity="0.8" stroke-linejoin="round"/>
<polyline points="314.00,517.00 318.00,446.00" fill="none" stroke="#2e9a5c" stroke-width="0.5" stroke-opacity="0.85" stroke-linejoin="round"/>
<polyline points="318.00,446.00 319.00,447.00 330.00,460.00 341.50,470.20 358.80,478.80 380.00,485.00 406.90,492.30 430.00,490.40" fill="none" stroke="#2e9a5c" stroke-width="0.5" stroke-opacity="0.85" stroke-linejoin="round"/>
<polyline points="54.00,517.00 57.00,441.00 60.00,446.00 62.00,464.00 75.90,490.60 83.30,491.60 112.90,492.70 138.30,493.80 144.60,492.70 171.70,489.60 190.80,498.50 238.40,502.30" fill="none" stroke="#6b7180" stroke-width="0.5" stroke-opacity="0.85" stroke-linejoin="round"/>
<polyline points="314.00,517.00 317.00,441.00" fill="none" stroke="#8a9a40" stroke-width="0.5" stroke-opacity="0.6" stroke-linejoin="round"/>
<polyline points="317.00,441.00 320.00,446.00 322.00,464.00 335.90,490.60 343.30,491.60 372.90,492.70 398.30,493.80 404.60,492.70 431.70,489.60 450.80,498.50 498.40,502.30" fill="none" stroke="#2e9a5c" stroke-width="0.5" stroke-opacity="0.85" stroke-linejoin="round"/>
<polyline points="54.00,517.00 57.00,468.00 60.00,472.00 70.00,475.00 77.70,477.90 96.90,485.60 118.00,487.50 135.00,489.00" fill="none" stroke="#f3ba70" stroke-width="0.5" stroke-opacity="0.8" stroke-linejoin="round"/>
<polyline points="314.00,517.00 317.00,468.00" fill="none" stroke="#2e9a5c" stroke-width="0.5" stroke-opacity="0.85" stroke-linejoin="round"/>
<polyline points="317.00,468.00 320.00,472.00 330.00,475.00 337.70,477.90 356.90,485.60 378.00,487.50 395.00,489.00" fill="none" stroke="#2e9a5c" stroke-width="0.5" stroke-opacity="0.85" stroke-linejoin="round"/>
<polyline points="54.00,517.00 57.00,478.00 60.00,483.70 85.40,483.70 100.80,485.60 118.00,486.50" fill="none" stroke="#f3ba70" stroke-width="0.5" stroke-opacity="0.8" stroke-linejoin="round"/>
<polyline points="314.00,517.00 317.00,478.00" fill="none" stroke="#f3c27e" stroke-width="0.5" stroke-opacity="0.7" stroke-linejoin="round"/>
<polyline points="317.00,478.00 320.00,483.70 345.40,483.70 360.80,485.60 378.00,486.50" fill="none" stroke="#2e9a5c" stroke-width="0.5" stroke-opacity="0.85" stroke-linejoin="round"/>
<polyline points="54.00,517.00 57.00,485.00 62.00,489.00 70.00,491.30 95.00,491.30 120.00,493.30 146.90,498.10 171.70,500.60 190.80,498.50" fill="none" stroke="#f3ba70" stroke-width="0.5" stroke-opacity="0.8" stroke-linejoin="round"/>
<polyline points="314.00,517.00 317.00,485.00" fill="none" stroke="#f3c27e" stroke-width="0.5" stroke-opacity="0.7" stroke-linejoin="round"/>
<polyline points="317.00,485.00 322.00,489.00 330.00,491.30 355.00,491.30 380.00,493.30 406.90,498.10 431.70,500.60 450.80,498.50" fill="none" stroke="#2e9a5c" stroke-width="0.5" stroke-opacity="0.85" stroke-linejoin="round"/>
<polyline points="54.00,517.00 57.00,492.00 62.00,496.00 70.60,500.10 100.80,501.00" fill="none" stroke="#f3ba70" stroke-width="0.5" stroke-opacity="0.8" stroke-linejoin="round"/>
<polyline points="314.00,517.00 317.00,492.00" fill="none" stroke="#9aa0a8" stroke-width="0.5" stroke-opacity="0.7" stroke-linejoin="round"/>
<polyline points="317.00,492.00 322.00,496.00 330.60,500.10 360.80,501.00" fill="none" stroke="#9aa0a8" stroke-width="0.5" stroke-opacity="0.7" stroke-linejoin="round"/>
<polyline points="54.00,517.00 57.00,445.00 60.00,448.00 72.00,452.00 81.50,459.60 95.00,496.20 98.00,517.80" fill="none" stroke="#f3ba70" stroke-width="0.5" stroke-opacity="0.8" stroke-linejoin="round"/>
<polyline points="314.00,517.00 317.00,445.00" fill="none" stroke="#8a9a40" stroke-width="0.5" stroke-opacity="0.6" stroke-linejoin="round"/>
<polyline points="317.00,445.00 320.00,448.00 332.00,452.00 341.50,459.60 355.00,496.20 358.00,517.80" fill="none" stroke="#2e9a5c" stroke-width="0.5" stroke-opacity="0.85" stroke-linejoin="round"/>
<polyline points="54.00,517.00 57.00,490.00 62.00,494.00 70.00,498.00 85.40,517.80" fill="none" stroke="#6b7180" stroke-width="0.5" stroke-opacity="0.85" stroke-linejoin="round"/>
<polyline points="314.00,517.00 317.00,490.00" fill="none" stroke="#2e9a5c" stroke-width="0.5" stroke-opacity="0.85" stroke-linejoin="round"/>
<polyline points="317.00,490.00 322.00,494.00 330.00,498.00 345.40,517.80" fill="none" stroke="#2e9a5c" stroke-width="0.5" stroke-opacity="0.85" stroke-linejoin="round"/>
<polyline points="54.00,517.00 57.00,492.00 62.00,495.00 70.00,503.80 77.70,517.80" fill="none" stroke="#6b7180" stroke-width="0.5" stroke-opacity="0.85" stroke-linejoin="round"/>
<polyline points="314.00,517.00 317.00,492.00" fill="none" stroke="#f3c27e" stroke-width="0.5" stroke-opacity="0.7" stroke-linejoin="round"/>
<polyline points="317.00,492.00 322.00,495.00 330.00,503.80 337.70,517.80" fill="none" stroke="#2e9a5c" stroke-width="0.5" stroke-opacity="0.85" stroke-linejoin="round"/>
<polyline points="54.00,517.00 57.00,462.00 62.00,466.00 85.40,469.20 97.00,496.00 100.00,517.80" fill="none" stroke="#f3ba70" stroke-width="0.5" stroke-opacity="0.8" stroke-linejoin="round"/>
<polyline points="314.00,517.00 317.00,462.00" fill="none" stroke="#f3c27e" stroke-width="0.5" stroke-opacity="0.7" stroke-linejoin="round"/>
<polyline points="317.00,462.00 322.00,466.00 345.40,469.20 357.00,496.00 360.00,517.80" fill="none" stroke="#3c3a9a" stroke-width="0.5" stroke-opacity="0.75" stroke-linejoin="round"/>
<polyline points="54.00,517.00 57.00,455.00 61.00,458.00 80.00,470.00 102.70,482.70 125.00,500.00 146.90,516.30" fill="none" stroke="#f3ba70" stroke-width="0.5" stroke-opacity="0.8" stroke-linejoin="round"/>
<polyline points="314.00,517.00 317.00,455.00" fill="none" stroke="#f3c27e" stroke-width="0.5" stroke-opacity="0.7" stroke-linejoin="round"/>
<polyline points="317.00,455.00 321.00,458.00 340.00,470.00 362.70,482.70 385.00,500.00 406.90,516.30" fill="none" stroke="#2e9a5c" stroke-width="0.5" stroke-opacity="0.85" stroke-linejoin="round"/>
<polyline points="54.00,517.00 57.00,458.00 59.50,463.10 77.50,463.10 85.00,468.00 92.00,480.00 100.00,490.00" fill="none" stroke="#f3ba70" stroke-width="0.5" stroke-opacity="0.8" stroke-linejoin="round"/>
<polyline points="314.00,517.00 317.00,458.00" fill="none" stroke="#f3c27e" stroke-width="0.5" stroke-opacity="0.7" stroke-linejoin="round"/>
<polyline points="317.00,458.00 319.50,463.10 337.50,463.10 345.00,468.00 352.00,480.00 360.00,490.00" fill="none" stroke="#9aa0a8" stroke-width="0.5" stroke-opacity="0.7" stroke-linejoin="round"/>
<polyline points="54.00,517.00 57.00,462.00 60.00,466.00 63.20,473.70 84.30,494.80" fill="none" stroke="#6b7180" stroke-width="0.5" stroke-opacity="0.85" stroke-linejoin="round"/>
<polyline points="314.00,517.00 317.00,462.00" fill="none" stroke="#f3c27e" stroke-width="0.5" stroke-opacity="0.7" stroke-linejoin="round"/>
<polyline points="317.00,462.00 320.00,466.00 323.20,473.70 344.30,494.80" fill="none" stroke="#3c3a9a" stroke-width="0.5" stroke-opacity="0.75" stroke-linejoin="round"/>
<polyline points="54.00,517.00 57.00,460.00 60.00,462.00 64.20,467.30 85.40,517.80" fill="none" stroke="#f3ba70" stroke-width="0.5" stroke-opacity="0.8" stroke-linejoin="round"/>
<polyline points="314.00,517.00 317.00,460.00" fill="none" stroke="#f3c27e" stroke-width="0.5" stroke-opacity="0.7" stroke-linejoin="round"/>
<polyline points="317.00,460.00 320.00,462.00 324.20,467.30 345.40,517.80" fill="none" stroke="#2e9a5c" stroke-width="0.5" stroke-opacity="0.85" stroke-linejoin="round"/>
<polyline points="54.00,517.00 57.00,478.00 62.00,486.30 74.80,517.80" fill="none" stroke="#6b7180" stroke-width="0.5" stroke-opacity="0.85" stroke-linejoin="round"/>
<polyline points="314.00,517.00 317.00,478.00" fill="none" stroke="#f3c27e" stroke-width="0.5" stroke-opacity="0.7" stroke-linejoin="round"/>
<polyline points="317.00,478.00 322.00,486.30 334.80,517.80" fill="none" stroke="#1f4f6f" stroke-width="0.5" stroke-opacity="0.8" stroke-linejoin="round"/>
<polyline points="54.00,517.00 57.00,488.00 64.20,494.80 79.00,517.80" fill="none" stroke="#6b7180" stroke-width="0.5" stroke-opacity="0.85" stroke-linejoin="round"/>
<polyline points="314.00,517.00 317.00,488.00" fill="none" stroke="#f3c27e" stroke-width="0.5" stroke-opacity="0.7" stroke-linejoin="round"/>
<polyline points="317.00,488.00 324.20,494.80 339.00,517.80" fill="none" stroke="#3c3a9a" stroke-width="0.5" stroke-opacity="0.75" stroke-linejoin="round"/>
<polyline points="54.00,517.00 57.00,428.50 58.60,427.50 61.50,440.00 62.60,449.60 64.20,467.00 62.00,490.00 60.50,517.80" fill="none" stroke="#2e9a5c" stroke-width="0.5" stroke-opacity="0.85" stroke-linejoin="round"/>
<polyline points="314.00,517.00 317.00,428.50" fill="none" stroke="#2e9a5c" stroke-width="0.5" stroke-opacity="0.85" stroke-linejoin="round"/>
<polyline points="317.00,428.50 318.60,427.50 321.50,440.00 322.60,449.60 324.20,467.00 322.00,490.00 320.50,517.80" fill="none" stroke="#2e9a5c" stroke-width="0.5" stroke-opacity="0.85" stroke-linejoin="round"/>
<polyline points="54.00,517.00 56.50,446.00 59.00,448.00 64.00,470.00 68.00,490.00 72.00,517.80" fill="none" stroke="#6b7180" stroke-width="0.5" stroke-opacity="0.85" stroke-linejoin="round"/>
<polyline points="314.00,517.00 316.50,446.00" fill="none" stroke="#8a9a40" stroke-width="0.5" stroke-opacity="0.6" stroke-linejoin="round"/>
<polyline points="316.50,446.00 319.00,448.00 324.00,470.00 328.00,490.00 332.00,517.80" fill="none" stroke="#1f4f6f" stroke-width="0.5" stroke-opacity="0.8" stroke-linejoin="round"/>
<polyline points="54.00,517.00 57.50,476.00 60.00,480.00 75.00,485.00 92.00,488.00 108.00,517.80" fill="none" stroke="#f3ba70" stroke-width="0.5" stroke-opacity="0.8" stroke-linejoin="round"/>
<polyline points="314.00,517.00 317.50,476.00" fill="none" stroke="#f3c27e" stroke-width="0.5" stroke-opacity="0.7" stroke-linejoin="round"/>
<polyline points="317.50,476.00 320.00,480.00 335.00,485.00 352.00,488.00 368.00,517.80" fill="none" stroke="#2e9a5c" stroke-width="0.5" stroke-opacity="0.85" stroke-linejoin="round"/>
</svg>
</body></html>
